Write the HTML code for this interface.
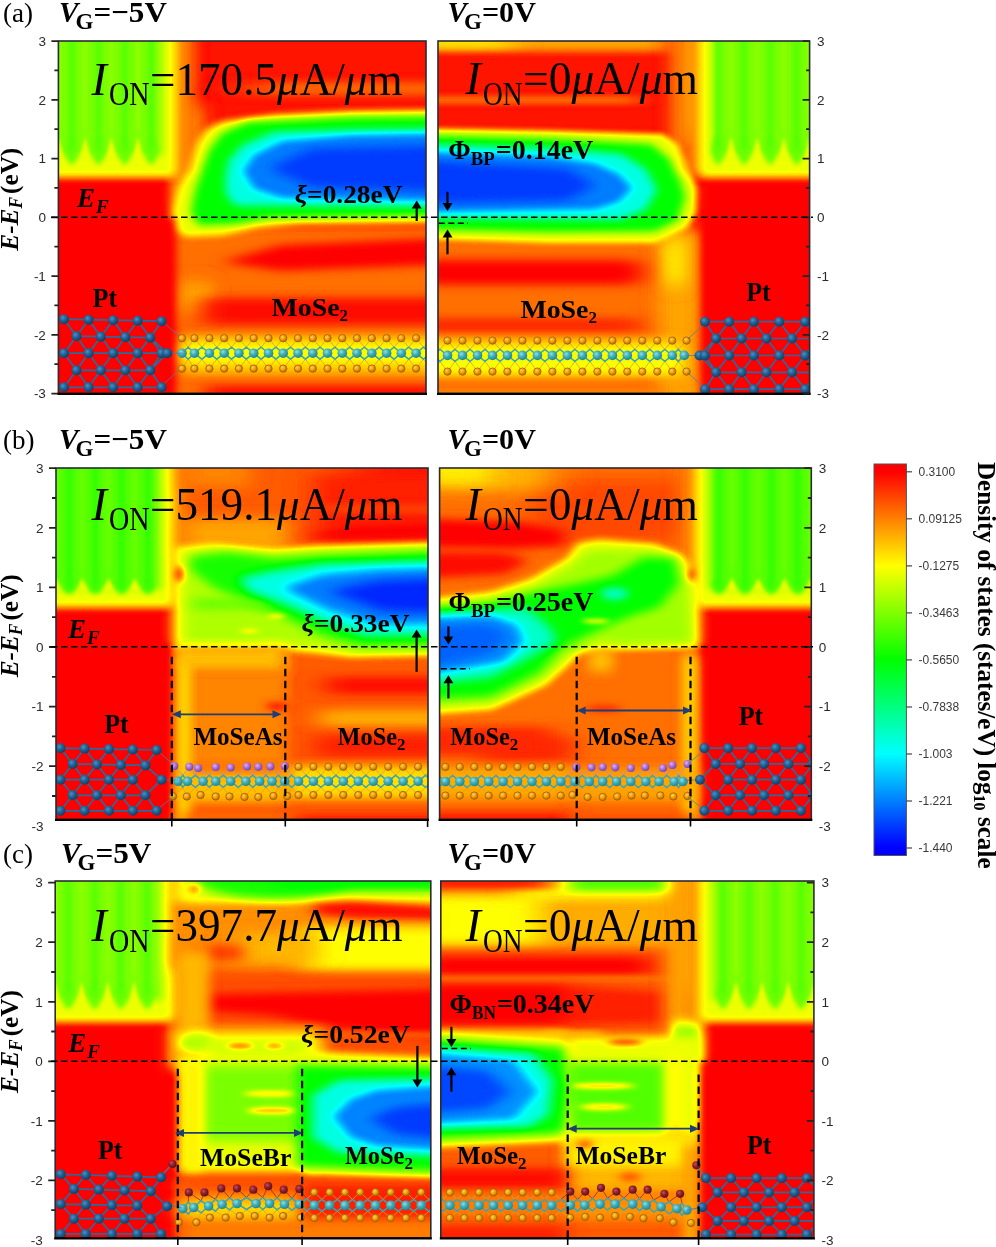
<!DOCTYPE html>
<html><head><meta charset="utf-8"><title>Projected local density of states</title>
<style>
html,body{margin:0;padding:0;background:#fff}
svg{display:block}
text{font-family:"Liberation Serif",serif}
.ss{font-family:"Liberation Sans",sans-serif}
</style></head><body>
<svg width="996" height="1247" viewBox="0 0 996 1247">
<filter id="cm_aL" filterUnits="userSpaceOnUse" x="18.4" y="1" width="447.6" height="432.5" color-interpolation-filters="sRGB"><feComponentTransfer><feFuncR type="table" tableValues="1 1 0 0 0"/><feFuncG type="table" tableValues="0 1 1 1 0"/><feFuncB type="table" tableValues="0 0 0 1 1"/></feComponentTransfer></filter>
<clipPath id="c_aL"><rect x="58.4" y="41" width="367.6" height="352.5"/></clipPath>
<filter id="aL_25_4" filterUnits="userSpaceOnUse" x="18.4" y="1" width="447.6" height="432.5" color-interpolation-filters="sRGB"><feGaussianBlur stdDeviation="25 4"/></filter>
<filter id="aL_8_8" filterUnits="userSpaceOnUse" x="18.4" y="1" width="447.6" height="432.5" color-interpolation-filters="sRGB"><feGaussianBlur stdDeviation="8 8"/></filter>
<filter id="aL_6_5" filterUnits="userSpaceOnUse" x="18.4" y="1" width="447.6" height="432.5" color-interpolation-filters="sRGB"><feGaussianBlur stdDeviation="6 5"/></filter>
<filter id="aL_4_3" filterUnits="userSpaceOnUse" x="18.4" y="1" width="447.6" height="432.5" color-interpolation-filters="sRGB"><feGaussianBlur stdDeviation="4 3"/></filter>
<filter id="aL_5_3p5" filterUnits="userSpaceOnUse" x="18.4" y="1" width="447.6" height="432.5" color-interpolation-filters="sRGB"><feGaussianBlur stdDeviation="5 3.5"/></filter>
<filter id="aL_5_3" filterUnits="userSpaceOnUse" x="18.4" y="1" width="447.6" height="432.5" color-interpolation-filters="sRGB"><feGaussianBlur stdDeviation="5 3"/></filter>
<filter id="aL_8_5" filterUnits="userSpaceOnUse" x="18.4" y="1" width="447.6" height="432.5" color-interpolation-filters="sRGB"><feGaussianBlur stdDeviation="8 5"/></filter>
<filter id="aL_8_4p5" filterUnits="userSpaceOnUse" x="18.4" y="1" width="447.6" height="432.5" color-interpolation-filters="sRGB"><feGaussianBlur stdDeviation="8 4.5"/></filter>
<filter id="aL_14_5" filterUnits="userSpaceOnUse" x="18.4" y="1" width="447.6" height="432.5" color-interpolation-filters="sRGB"><feGaussianBlur stdDeviation="14 5"/></filter>
<filter id="aL_8_4" filterUnits="userSpaceOnUse" x="18.4" y="1" width="447.6" height="432.5" color-interpolation-filters="sRGB"><feGaussianBlur stdDeviation="8 4"/></filter>
<filter id="aL_10_3p5" filterUnits="userSpaceOnUse" x="18.4" y="1" width="447.6" height="432.5" color-interpolation-filters="sRGB"><feGaussianBlur stdDeviation="10 3.5"/></filter>
<filter id="aL_9_5" filterUnits="userSpaceOnUse" x="18.4" y="1" width="447.6" height="432.5" color-interpolation-filters="sRGB"><feGaussianBlur stdDeviation="9 5"/></filter>
<filter id="aL_6_4" filterUnits="userSpaceOnUse" x="18.4" y="1" width="447.6" height="432.5" color-interpolation-filters="sRGB"><feGaussianBlur stdDeviation="6 4"/></filter>
<filter id="aL_5_4p2" filterUnits="userSpaceOnUse" x="18.4" y="1" width="447.6" height="432.5" color-interpolation-filters="sRGB"><feGaussianBlur stdDeviation="5 4.2"/></filter>
<filter id="aL_2_5" filterUnits="userSpaceOnUse" x="18.4" y="1" width="447.6" height="432.5" color-interpolation-filters="sRGB"><feGaussianBlur stdDeviation="2 5"/></filter>
<filter id="aL_1p5_2" filterUnits="userSpaceOnUse" x="18.4" y="1" width="447.6" height="432.5" color-interpolation-filters="sRGB"><feGaussianBlur stdDeviation="1.5 2"/></filter>
<filter id="aL_2_2p5" filterUnits="userSpaceOnUse" x="18.4" y="1" width="447.6" height="432.5" color-interpolation-filters="sRGB"><feGaussianBlur stdDeviation="2 2.5"/></filter>
<filter id="aL_2p5_5" filterUnits="userSpaceOnUse" x="18.4" y="1" width="447.6" height="432.5" color-interpolation-filters="sRGB"><feGaussianBlur stdDeviation="2.5 5"/></filter>
<g clip-path="url(#c_aL)"><g filter="url(#cm_aL)">
<rect x="18.4" y="1" width="447.6" height="432.5" fill="#050505"/>
<rect x="250.8" y="82.4" width="218.4" height="12.8" fill="#1c1c1c" filter="url(#aL_25_4)"/>
<rect x="162.3" y="19.2" width="28.2" height="214.6" fill="#212121" filter="url(#aL_8_8)"/>
<rect x="168" y="105.8" width="37.7" height="56.5" fill="#1f1f1f" filter="url(#aL_8_8)"/>
<rect x="171.7" y="226.3" width="297.4" height="188.3" fill="#1c1c1c" filter="url(#aL_6_5)"/>
<polygon points="457.2,109.8 352.8,110.9 274.4,114.8 222.2,121.3 206.6,129.2 197.4,142.2 185.7,168.3 176.5,194.4 172.1,212.7 173.1,228.4 185.7,236.7 222.2,235.2 256.2,227.9 300.5,223.7 457.2,222.6" fill="#454545" filter="url(#aL_4_3)"/>
<polygon points="457.2,116.1 352.8,117.2 248.3,121.9 222.2,133.1 209.2,150.1 201.9,168.3 194,194.4 190.9,212.7 198.7,225.2 235.3,223.7 269.2,217.9 457.2,215.3" fill="#808080" filter="url(#aL_5_3p5)"/>
<polygon points="457.2,128.6 352.8,129.7 274.4,131.8 243.1,144.8 228.7,160.5 225.4,178.8 226.1,194.4 235.3,205.4 457.2,206.7" fill="#b8b8b8" filter="url(#aL_5_3p5)"/>
<polygon points="457.2,133.3 352.8,134.9 282.3,140.9 253.6,155.3 243.1,170.9 253.6,188.7 282.3,198.1 457.2,201.2" fill="#e0e0e0" filter="url(#aL_5_3)"/>
<polygon points="457.2,145.4 311,148.7 269.2,168.3 311,187.1 457.2,191.8" fill="#f0f0f0" filter="url(#aL_8_5)"/>
<polygon points="221.8,262 280.9,245.1 469.2,236.8 469.2,263.9 280.9,270.7" fill="#000000" filter="url(#aL_8_4p5)"/>
<rect x="179.2" y="282.7" width="33.9" height="30.1" fill="#2b2b2b" filter="url(#aL_8_8)"/>
<rect x="201.8" y="297.8" width="267.3" height="27.1" fill="#030303" filter="url(#aL_14_5)"/>
<rect x="181.1" y="335.4" width="288" height="38.8" fill="#333333" filter="url(#aL_8_4)"/>
<rect x="181.1" y="343.7" width="288" height="18.8" fill="#424242" filter="url(#aL_8_4)"/>
<rect x="205.6" y="385.1" width="263.6" height="29.4" fill="#050505" filter="url(#aL_10_3p5)"/>
<rect x="36.2" y="166" width="131.8" height="248.5" fill="#000000" filter="url(#aL_4_3)"/>
<rect x="36.2" y="218.7" width="138.6" height="195.8" fill="#000000" filter="url(#aL_4_3)"/>
<rect x="-229" y="1" width="418" height="172" fill="#212121" filter="url(#aL_9_5)"/>
<rect x="-229" y="1" width="408" height="174" fill="#2e2e2e" filter="url(#aL_6_4)"/>
<rect x="-229" y="1" width="403" height="175" fill="#454545" filter="url(#aL_5_4p2)"/>
<rect x="-229" y="1" width="391" height="154.6" fill="#626262" filter="url(#aL_5_3)"/>
<rect x="57" y="1" width="3" height="131" fill="#585858" filter="url(#aL_2_5)"/>
<polygon points="51.5,162 58.5,137 65.5,162" fill="#454545" filter="url(#aL_1p5_2)"/>
<rect x="83.7" y="1" width="3" height="131" fill="#585858" filter="url(#aL_2_5)"/>
<polygon points="78.2,162 85.2,137 92.2,162" fill="#454545" filter="url(#aL_1p5_2)"/>
<rect x="109.8" y="1" width="3" height="131" fill="#585858" filter="url(#aL_2_5)"/>
<polygon points="104.3,162 111.3,137 118.3,162" fill="#454545" filter="url(#aL_1p5_2)"/>
<rect x="136.5" y="1" width="3" height="131" fill="#585858" filter="url(#aL_2_5)"/>
<polygon points="131,162 138,137 145,162" fill="#454545" filter="url(#aL_1p5_2)"/>
<ellipse cx="71.8" cy="150" rx="6.7" ry="14" fill="#656565" filter="url(#aL_2_2p5)"/>
<rect x="69.8" y="1" width="4" height="149" fill="#6f6f6f" filter="url(#aL_2p5_5)"/>
<ellipse cx="98.6" cy="150" rx="6.7" ry="14" fill="#656565" filter="url(#aL_2_2p5)"/>
<rect x="96.6" y="1" width="4" height="149" fill="#6f6f6f" filter="url(#aL_2p5_5)"/>
<ellipse cx="124.7" cy="150" rx="6.7" ry="14" fill="#656565" filter="url(#aL_2_2p5)"/>
<rect x="122.7" y="1" width="4" height="149" fill="#6f6f6f" filter="url(#aL_2p5_5)"/>
<ellipse cx="151.3" cy="150" rx="6.7" ry="14" fill="#656565" filter="url(#aL_2_2p5)"/>
<rect x="149.3" y="1" width="4" height="149" fill="#6f6f6f" filter="url(#aL_2p5_5)"/>
<ellipse cx="45.1" cy="150" rx="6.7" ry="14" fill="#656565" filter="url(#aL_2_2p5)"/>
<rect x="43.1" y="1" width="4" height="149" fill="#6f6f6f" filter="url(#aL_2p5_5)"/>
</g></g>
<filter id="cm_aR" filterUnits="userSpaceOnUse" x="398" y="1" width="451.6" height="432.5" color-interpolation-filters="sRGB"><feComponentTransfer><feFuncR type="table" tableValues="1 1 0 0 0"/><feFuncG type="table" tableValues="0 1 1 1 0"/><feFuncB type="table" tableValues="0 0 0 1 1"/></feComponentTransfer></filter>
<clipPath id="c_aR"><rect x="438" y="41" width="371.6" height="352.5"/></clipPath>
<filter id="aR_12_2p5" filterUnits="userSpaceOnUse" x="398" y="1" width="451.6" height="432.5" color-interpolation-filters="sRGB"><feGaussianBlur stdDeviation="12 2.5"/></filter>
<filter id="aR_12_3p5" filterUnits="userSpaceOnUse" x="398" y="1" width="451.6" height="432.5" color-interpolation-filters="sRGB"><feGaussianBlur stdDeviation="12 3.5"/></filter>
<filter id="aR_14_3" filterUnits="userSpaceOnUse" x="398" y="1" width="451.6" height="432.5" color-interpolation-filters="sRGB"><feGaussianBlur stdDeviation="14 3"/></filter>
<filter id="aR_8_8" filterUnits="userSpaceOnUse" x="398" y="1" width="451.6" height="432.5" color-interpolation-filters="sRGB"><feGaussianBlur stdDeviation="8 8"/></filter>
<filter id="aR_5_8" filterUnits="userSpaceOnUse" x="398" y="1" width="451.6" height="432.5" color-interpolation-filters="sRGB"><feGaussianBlur stdDeviation="5 8"/></filter>
<filter id="aR_6_5" filterUnits="userSpaceOnUse" x="398" y="1" width="451.6" height="432.5" color-interpolation-filters="sRGB"><feGaussianBlur stdDeviation="6 5"/></filter>
<filter id="aR_6_8" filterUnits="userSpaceOnUse" x="398" y="1" width="451.6" height="432.5" color-interpolation-filters="sRGB"><feGaussianBlur stdDeviation="6 8"/></filter>
<filter id="aR_3_2p5" filterUnits="userSpaceOnUse" x="398" y="1" width="451.6" height="432.5" color-interpolation-filters="sRGB"><feGaussianBlur stdDeviation="3 2.5"/></filter>
<filter id="aR_5_3p5" filterUnits="userSpaceOnUse" x="398" y="1" width="451.6" height="432.5" color-interpolation-filters="sRGB"><feGaussianBlur stdDeviation="5 3.5"/></filter>
<filter id="aR_5_3" filterUnits="userSpaceOnUse" x="398" y="1" width="451.6" height="432.5" color-interpolation-filters="sRGB"><feGaussianBlur stdDeviation="5 3"/></filter>
<filter id="aR_8_4" filterUnits="userSpaceOnUse" x="398" y="1" width="451.6" height="432.5" color-interpolation-filters="sRGB"><feGaussianBlur stdDeviation="8 4"/></filter>
<filter id="aR_12_5" filterUnits="userSpaceOnUse" x="398" y="1" width="451.6" height="432.5" color-interpolation-filters="sRGB"><feGaussianBlur stdDeviation="12 5"/></filter>
<filter id="aR_12_4" filterUnits="userSpaceOnUse" x="398" y="1" width="451.6" height="432.5" color-interpolation-filters="sRGB"><feGaussianBlur stdDeviation="12 4"/></filter>
<filter id="aR_10_5" filterUnits="userSpaceOnUse" x="398" y="1" width="451.6" height="432.5" color-interpolation-filters="sRGB"><feGaussianBlur stdDeviation="10 5"/></filter>
<filter id="aR_4_3" filterUnits="userSpaceOnUse" x="398" y="1" width="451.6" height="432.5" color-interpolation-filters="sRGB"><feGaussianBlur stdDeviation="4 3"/></filter>
<filter id="aR_2p5_3" filterUnits="userSpaceOnUse" x="398" y="1" width="451.6" height="432.5" color-interpolation-filters="sRGB"><feGaussianBlur stdDeviation="2.5 3"/></filter>
<filter id="aR_9_5" filterUnits="userSpaceOnUse" x="398" y="1" width="451.6" height="432.5" color-interpolation-filters="sRGB"><feGaussianBlur stdDeviation="9 5"/></filter>
<filter id="aR_6_4" filterUnits="userSpaceOnUse" x="398" y="1" width="451.6" height="432.5" color-interpolation-filters="sRGB"><feGaussianBlur stdDeviation="6 4"/></filter>
<filter id="aR_5_4p2" filterUnits="userSpaceOnUse" x="398" y="1" width="451.6" height="432.5" color-interpolation-filters="sRGB"><feGaussianBlur stdDeviation="5 4.2"/></filter>
<filter id="aR_2_5" filterUnits="userSpaceOnUse" x="398" y="1" width="451.6" height="432.5" color-interpolation-filters="sRGB"><feGaussianBlur stdDeviation="2 5"/></filter>
<filter id="aR_1p5_2" filterUnits="userSpaceOnUse" x="398" y="1" width="451.6" height="432.5" color-interpolation-filters="sRGB"><feGaussianBlur stdDeviation="1.5 2"/></filter>
<filter id="aR_2_2p5" filterUnits="userSpaceOnUse" x="398" y="1" width="451.6" height="432.5" color-interpolation-filters="sRGB"><feGaussianBlur stdDeviation="2 2.5"/></filter>
<filter id="aR_2p5_5" filterUnits="userSpaceOnUse" x="398" y="1" width="451.6" height="432.5" color-interpolation-filters="sRGB"><feGaussianBlur stdDeviation="2.5 5"/></filter>
<g clip-path="url(#c_aR)"><g filter="url(#cm_aR)">
<rect x="398" y="1" width="451.6" height="432.5" fill="#050505"/>
<rect x="416" y="95.7" width="223.9" height="8.7" fill="#1a1a1a" filter="url(#aR_12_2p5)"/>
<rect x="416" y="19" width="254.3" height="32.6" fill="#292929" filter="url(#aR_12_3p5)"/>
<rect x="416" y="19" width="94.9" height="29.6" fill="#383838" filter="url(#aR_14_3)"/>
<rect x="670.3" y="19" width="41.7" height="132.8" fill="#212121" filter="url(#aR_8_8)"/>
<rect x="687.4" y="19" width="24.7" height="110.1" fill="#333333" filter="url(#aR_5_8)"/>
<rect x="416" y="235.3" width="284.6" height="182.2" fill="#1c1c1c" filter="url(#aR_6_5)"/>
<rect x="657" y="227.8" width="43.6" height="189.8" fill="#292929" filter="url(#aR_8_8)"/>
<rect x="662.7" y="239.1" width="24.7" height="45.5" fill="#383838" filter="url(#aR_6_8)"/>
<polygon points="416,128.3 548.9,130.6 662.7,134 677.9,144.3 688.5,163.2 696.9,189.8 696.1,212.6 687.4,227.8 655.1,242.9 548.9,242.9 416,239.1" fill="#454545" filter="url(#aR_3_2p5)"/>
<polygon points="416,135.2 548.9,138.2 651.3,143.9 670.3,159.4 679.8,178.4 685.5,197.4 677.9,220.2 655.1,231.5 548.9,232.3 416,229.7" fill="#808080" filter="url(#aR_5_3p5)"/>
<polygon points="416,144.3 548.9,148.1 621,154.1 645.6,168.9 657,189.8 645.6,209.5 621,219.4 416,217.9" fill="#b8b8b8" filter="url(#aR_5_3p5)"/>
<polygon points="416,151.1 548.9,156.4 594.4,163.2 619.1,173.9 632.3,187.9 619.1,201.9 594.4,209.5 416,212.6" fill="#e0e0e0" filter="url(#aR_5_3)"/>
<polygon points="416,160.2 567.8,168.9 594.4,185.2 567.8,200.4 416,203.5" fill="#f0f0f0" filter="url(#aR_8_4)"/>
<rect x="416" y="260" width="225.8" height="24.7" rx="10" fill="#000000" filter="url(#aR_12_5)"/>
<rect x="416" y="318.1" width="223.9" height="14" fill="#0a0a0a" filter="url(#aR_12_4)"/>
<rect x="416" y="337.8" width="265.7" height="40.2" fill="#333333" filter="url(#aR_8_4)"/>
<rect x="416" y="346.2" width="265.7" height="25.8" fill="#424242" filter="url(#aR_8_4)"/>
<rect x="416" y="389" width="246.7" height="28.5" fill="#212121" filter="url(#aR_10_5)"/>
<rect x="705.2" y="170.8" width="147.2" height="246.7" fill="#000000" filter="url(#aR_4_3)"/>
<rect x="702.9" y="216.4" width="149.5" height="201.1" fill="#000000" filter="url(#aR_4_3)"/>
<ellipse cx="691.2" cy="148.8" rx="3.8" ry="5.3" fill="#0d0d0d" filter="url(#aR_2p5_3)"/>
<rect x="686" y="1" width="418" height="172" fill="#212121" filter="url(#aR_9_5)"/>
<rect x="696" y="1" width="408" height="174" fill="#2e2e2e" filter="url(#aR_6_4)"/>
<rect x="701" y="1" width="403" height="175" fill="#454545" filter="url(#aR_5_4p2)"/>
<rect x="713" y="1" width="391" height="154.6" fill="#626262" filter="url(#aR_5_3)"/>
<rect x="729.7" y="1" width="3" height="131" fill="#585858" filter="url(#aR_2_5)"/>
<polygon points="724.2,162 731.2,137 738.2,162" fill="#454545" filter="url(#aR_1p5_2)"/>
<rect x="755.7" y="1" width="3" height="131" fill="#585858" filter="url(#aR_2_5)"/>
<polygon points="750.2,162 757.2,137 764.2,162" fill="#454545" filter="url(#aR_1p5_2)"/>
<rect x="782.4" y="1" width="3" height="131" fill="#585858" filter="url(#aR_2_5)"/>
<polygon points="776.9,162 783.9,137 790.9,162" fill="#454545" filter="url(#aR_1p5_2)"/>
<rect x="808" y="1" width="3" height="131" fill="#585858" filter="url(#aR_2_5)"/>
<polygon points="802.5,162 809.5,137 816.5,162" fill="#454545" filter="url(#aR_1p5_2)"/>
<ellipse cx="744.2" cy="150" rx="6.5" ry="14" fill="#656565" filter="url(#aR_2_2p5)"/>
<rect x="742.2" y="1" width="4" height="149" fill="#6f6f6f" filter="url(#aR_2p5_5)"/>
<ellipse cx="770.2" cy="150" rx="6.5" ry="14" fill="#656565" filter="url(#aR_2_2p5)"/>
<rect x="768.2" y="1" width="4" height="149" fill="#6f6f6f" filter="url(#aR_2p5_5)"/>
<ellipse cx="796.9" cy="150" rx="6.5" ry="14" fill="#656565" filter="url(#aR_2_2p5)"/>
<rect x="794.9" y="1" width="4" height="149" fill="#6f6f6f" filter="url(#aR_2p5_5)"/>
<ellipse cx="822.5" cy="150" rx="6.5" ry="14" fill="#656565" filter="url(#aR_2_2p5)"/>
<rect x="820.5" y="1" width="4" height="149" fill="#6f6f6f" filter="url(#aR_2p5_5)"/>
<ellipse cx="718.2" cy="150" rx="6.5" ry="14" fill="#656565" filter="url(#aR_2_2p5)"/>
<rect x="716.2" y="1" width="4" height="149" fill="#6f6f6f" filter="url(#aR_2p5_5)"/>
</g></g>
<filter id="cm_bL" filterUnits="userSpaceOnUse" x="16" y="428" width="452" height="431.5" color-interpolation-filters="sRGB"><feComponentTransfer><feFuncR type="table" tableValues="1 1 0 0 0"/><feFuncG type="table" tableValues="0 1 1 1 0"/><feFuncB type="table" tableValues="0 0 0 1 1"/></feComponentTransfer></filter>
<clipPath id="c_bL"><rect x="56" y="468" width="372" height="351.5"/></clipPath>
<filter id="bL_4_3" filterUnits="userSpaceOnUse" x="16" y="428" width="452" height="431.5" color-interpolation-filters="sRGB"><feGaussianBlur stdDeviation="4 3"/></filter>
<filter id="bL_9_5" filterUnits="userSpaceOnUse" x="16" y="428" width="452" height="431.5" color-interpolation-filters="sRGB"><feGaussianBlur stdDeviation="9 5"/></filter>
<filter id="bL_6_4" filterUnits="userSpaceOnUse" x="16" y="428" width="452" height="431.5" color-interpolation-filters="sRGB"><feGaussianBlur stdDeviation="6 4"/></filter>
<filter id="bL_5_4p2" filterUnits="userSpaceOnUse" x="16" y="428" width="452" height="431.5" color-interpolation-filters="sRGB"><feGaussianBlur stdDeviation="5 4.2"/></filter>
<filter id="bL_5_3" filterUnits="userSpaceOnUse" x="16" y="428" width="452" height="431.5" color-interpolation-filters="sRGB"><feGaussianBlur stdDeviation="5 3"/></filter>
<filter id="bL_2_5" filterUnits="userSpaceOnUse" x="16" y="428" width="452" height="431.5" color-interpolation-filters="sRGB"><feGaussianBlur stdDeviation="2 5"/></filter>
<filter id="bL_1p5_2" filterUnits="userSpaceOnUse" x="16" y="428" width="452" height="431.5" color-interpolation-filters="sRGB"><feGaussianBlur stdDeviation="1.5 2"/></filter>
<filter id="bL_2_2p5" filterUnits="userSpaceOnUse" x="16" y="428" width="452" height="431.5" color-interpolation-filters="sRGB"><feGaussianBlur stdDeviation="2 2.5"/></filter>
<filter id="bL_2p5_5" filterUnits="userSpaceOnUse" x="16" y="428" width="452" height="431.5" color-interpolation-filters="sRGB"><feGaussianBlur stdDeviation="2.5 5"/></filter>
<filter id="bL_25_10" filterUnits="userSpaceOnUse" x="16" y="428" width="452" height="431.5" color-interpolation-filters="sRGB"><feGaussianBlur stdDeviation="25 10"/></filter>
<filter id="bL_14_6" filterUnits="userSpaceOnUse" x="16" y="428" width="452" height="431.5" color-interpolation-filters="sRGB"><feGaussianBlur stdDeviation="14 6"/></filter>
<filter id="bL_14_3" filterUnits="userSpaceOnUse" x="16" y="428" width="452" height="431.5" color-interpolation-filters="sRGB"><feGaussianBlur stdDeviation="14 3"/></filter>
<filter id="bL_10_6" filterUnits="userSpaceOnUse" x="16" y="428" width="452" height="431.5" color-interpolation-filters="sRGB"><feGaussianBlur stdDeviation="10 6"/></filter>
<filter id="bL_6_3p5" filterUnits="userSpaceOnUse" x="16" y="428" width="452" height="431.5" color-interpolation-filters="sRGB"><feGaussianBlur stdDeviation="6 3.5"/></filter>
<filter id="bL_8_4" filterUnits="userSpaceOnUse" x="16" y="428" width="452" height="431.5" color-interpolation-filters="sRGB"><feGaussianBlur stdDeviation="8 4"/></filter>
<filter id="bL_8_5" filterUnits="userSpaceOnUse" x="16" y="428" width="452" height="431.5" color-interpolation-filters="sRGB"><feGaussianBlur stdDeviation="8 5"/></filter>
<filter id="bL_3_2" filterUnits="userSpaceOnUse" x="16" y="428" width="452" height="431.5" color-interpolation-filters="sRGB"><feGaussianBlur stdDeviation="3 2"/></filter>
<filter id="bL_3_3" filterUnits="userSpaceOnUse" x="16" y="428" width="452" height="431.5" color-interpolation-filters="sRGB"><feGaussianBlur stdDeviation="3 3"/></filter>
<filter id="bL_6_6" filterUnits="userSpaceOnUse" x="16" y="428" width="452" height="431.5" color-interpolation-filters="sRGB"><feGaussianBlur stdDeviation="6 6"/></filter>
<filter id="bL_5_6" filterUnits="userSpaceOnUse" x="16" y="428" width="452" height="431.5" color-interpolation-filters="sRGB"><feGaussianBlur stdDeviation="5 6"/></filter>
<filter id="bL_14_4" filterUnits="userSpaceOnUse" x="16" y="428" width="452" height="431.5" color-interpolation-filters="sRGB"><feGaussianBlur stdDeviation="14 4"/></filter>
<filter id="bL_12_4" filterUnits="userSpaceOnUse" x="16" y="428" width="452" height="431.5" color-interpolation-filters="sRGB"><feGaussianBlur stdDeviation="12 4"/></filter>
<filter id="bL_14_5" filterUnits="userSpaceOnUse" x="16" y="428" width="452" height="431.5" color-interpolation-filters="sRGB"><feGaussianBlur stdDeviation="14 5"/></filter>
<filter id="bL_10_5" filterUnits="userSpaceOnUse" x="16" y="428" width="452" height="431.5" color-interpolation-filters="sRGB"><feGaussianBlur stdDeviation="10 5"/></filter>
<filter id="bL_10_3p5" filterUnits="userSpaceOnUse" x="16" y="428" width="452" height="431.5" color-interpolation-filters="sRGB"><feGaussianBlur stdDeviation="10 3.5"/></filter>
<g clip-path="url(#c_bL)"><g filter="url(#cm_bL)">
<rect x="16" y="428" width="452" height="431.5" fill="#171717"/>
<rect x="34" y="597.8" width="132.8" height="246.7" fill="#000000" filter="url(#bL_4_3)"/>
<rect x="34" y="643.4" width="137.4" height="201.1" fill="#000000" filter="url(#bL_4_3)"/>
<rect x="-231.3" y="428" width="418" height="175" fill="#212121" filter="url(#bL_9_5)"/>
<rect x="-231.3" y="428" width="408" height="177" fill="#2e2e2e" filter="url(#bL_6_4)"/>
<rect x="-231.3" y="428" width="403" height="178" fill="#454545" filter="url(#bL_5_4p2)"/>
<rect x="-231.3" y="428" width="391" height="161.3" fill="#6b6b6b" filter="url(#bL_5_3)"/>
<rect x="54.5" y="428" width="3" height="145" fill="#616161" filter="url(#bL_2_5)"/>
<polygon points="49,592 56,578 63,592" fill="#454545" filter="url(#bL_1p5_2)"/>
<rect x="80.8" y="428" width="3" height="145" fill="#616161" filter="url(#bL_2_5)"/>
<polygon points="75.3,592 82.3,578 89.3,592" fill="#454545" filter="url(#bL_1p5_2)"/>
<rect x="107.1" y="428" width="3" height="145" fill="#616161" filter="url(#bL_2_5)"/>
<polygon points="101.6,592 108.6,578 115.6,592" fill="#454545" filter="url(#bL_1p5_2)"/>
<rect x="133.4" y="428" width="3" height="145" fill="#616161" filter="url(#bL_2_5)"/>
<polygon points="127.9,592 134.9,578 141.9,592" fill="#454545" filter="url(#bL_1p5_2)"/>
<ellipse cx="69.2" cy="586.2" rx="6.6" ry="7.8" fill="#6e6e6e" filter="url(#bL_2_2p5)"/>
<rect x="67.2" y="428" width="4" height="158.2" fill="#787878" filter="url(#bL_2p5_5)"/>
<ellipse cx="95.4" cy="586.2" rx="6.6" ry="7.8" fill="#6e6e6e" filter="url(#bL_2_2p5)"/>
<rect x="93.4" y="428" width="4" height="158.2" fill="#787878" filter="url(#bL_2p5_5)"/>
<ellipse cx="121.8" cy="586.2" rx="6.6" ry="7.8" fill="#6e6e6e" filter="url(#bL_2_2p5)"/>
<rect x="119.8" y="428" width="4" height="158.2" fill="#787878" filter="url(#bL_2p5_5)"/>
<ellipse cx="148.1" cy="586.2" rx="6.6" ry="7.8" fill="#6e6e6e" filter="url(#bL_2_2p5)"/>
<rect x="146.1" y="428" width="4" height="158.2" fill="#787878" filter="url(#bL_2p5_5)"/>
<ellipse cx="42.9" cy="586.2" rx="6.6" ry="7.8" fill="#6e6e6e" filter="url(#bL_2_2p5)"/>
<rect x="40.9" y="428" width="4" height="158.2" fill="#787878" filter="url(#bL_2p5_5)"/>
<rect x="356.6" y="446" width="113.9" height="55" fill="#050505" filter="url(#bL_25_10)"/>
<rect x="314.9" y="474.5" width="155.6" height="70.2" fill="#080808" filter="url(#bL_14_6)"/>
<rect x="318.7" y="504.8" width="151.8" height="7.6" fill="#121212" filter="url(#bL_14_3)"/>
<rect x="183.9" y="518.1" width="104.4" height="36.1" fill="#292929" filter="url(#bL_10_6)"/>
<rect x="183.9" y="446" width="66.4" height="41.7" fill="#212121" filter="url(#bL_10_6)"/>
<polygon points="303.7,536.8 349.8,526.8 458.2,522.7 458.2,536.8 349.8,539" fill="#000000" filter="url(#bL_6_3p5)"/>
<polygon points="174.9,547.1 214.2,543.9 273.9,549.3 311.8,546 458.2,542.2 458.2,654.5 349.8,656.9 311.8,652.8 284.7,650.7 241.3,650.1 174.9,650.7" fill="#454545" filter="url(#bL_4_3)"/>
<polygon points="185.8,553.9 214.2,549.3 273.9,554.7 322.6,550.9 458.2,546.6 458.2,650.7 355.2,652.3 317.2,645.2 284.7,643.6 241.3,643.3 185.8,643.3" fill="#545454" filter="url(#bL_6_4)"/>
<polygon points="191.2,556.6 227.8,552.5 273.9,558 322.6,555.2 458.2,550.6 458.2,645.5 360.6,646.3 322.6,636 290.1,620.3 249.5,604 214.2,587.8 191.2,570.1" fill="#7a7a7a" filter="url(#bL_6_4)"/>
<rect x="192.5" y="598.6" width="75.9" height="10.8" fill="#666666" filter="url(#bL_8_4)"/>
<polygon points="238.6,578.3 268.4,571.5 322.6,563.4 458.2,559.6 458.2,634.9 366,636 328.1,623.8 290.1,606.7 249.5,591.8" fill="#b8b8b8" filter="url(#bL_6_4)"/>
<polygon points="282,587.8 322.6,574.2 376.9,569.3 458.2,567.2 458.2,624.1 376.9,624.6 328.1,610" fill="#e0e0e0" filter="url(#bL_6_4)"/>
<polygon points="328.1,591 376.9,581 458.2,577.5 458.2,613.5 382.3,610.8" fill="#f5f5f5" filter="url(#bL_8_5)"/>
<ellipse cx="276.6" cy="616.2" rx="8.7" ry="1.6" fill="#292929" filter="url(#bL_3_2)"/>
<ellipse cx="249.5" cy="631.1" rx="9.5" ry="1.6" fill="#333333" filter="url(#bL_3_2)"/>
<ellipse cx="179" cy="574.2" rx="4.3" ry="7.6" fill="#0d0d0d" filter="url(#bL_3_3)"/>
<rect x="263" y="649.6" width="24.4" height="22.2" fill="#333333" filter="url(#bL_6_6)"/>
<rect x="182" y="651" width="106.3" height="117.6" fill="#212121" filter="url(#bL_6_6)"/>
<rect x="176.3" y="654.8" width="15.2" height="189.8" fill="#363636" filter="url(#bL_5_6)"/>
<rect x="326.2" y="676.8" width="144.2" height="17.1" fill="#030303" filter="url(#bL_14_4)"/>
<rect x="318.7" y="709.8" width="151.8" height="17.1" fill="#2b2b2b" filter="url(#bL_12_4)"/>
<ellipse cx="276.9" cy="706.4" rx="11.4" ry="3.8" fill="#050505" filter="url(#bL_4_3)"/>
<rect x="314.9" y="735.2" width="155.6" height="21.3" fill="#080808" filter="url(#bL_14_5)"/>
<rect x="288.3" y="765.6" width="182.2" height="33.4" fill="#383838" filter="url(#bL_8_5)"/>
<rect x="182" y="772.4" width="106.3" height="30.4" fill="#303030" filter="url(#bL_8_5)"/>
<rect x="182" y="812.2" width="288.4" height="32.3" fill="#1a1a1a" filter="url(#bL_10_5)"/>
<rect x="295.9" y="813.4" width="174.6" height="31.1" fill="#080808" filter="url(#bL_10_3p5)"/>
<rect x="178.2" y="648.7" width="102.5" height="19.4" fill="#303030" filter="url(#bL_6_4)"/>
</g></g>
<filter id="cm_bR" filterUnits="userSpaceOnUse" x="399.6" y="428" width="451.7" height="431.5" color-interpolation-filters="sRGB"><feComponentTransfer><feFuncR type="table" tableValues="1 1 0 0 0"/><feFuncG type="table" tableValues="0 1 1 1 0"/><feFuncB type="table" tableValues="0 0 0 1 1"/></feComponentTransfer></filter>
<clipPath id="c_bR"><rect x="439.6" y="468" width="371.7" height="351.5"/></clipPath>
<filter id="bR_14_8" filterUnits="userSpaceOnUse" x="399.6" y="428" width="451.7" height="431.5" color-interpolation-filters="sRGB"><feGaussianBlur stdDeviation="14 8"/></filter>
<filter id="bR_4_3" filterUnits="userSpaceOnUse" x="399.6" y="428" width="451.7" height="431.5" color-interpolation-filters="sRGB"><feGaussianBlur stdDeviation="4 3"/></filter>
<filter id="bR_9_5" filterUnits="userSpaceOnUse" x="399.6" y="428" width="451.7" height="431.5" color-interpolation-filters="sRGB"><feGaussianBlur stdDeviation="9 5"/></filter>
<filter id="bR_6_4" filterUnits="userSpaceOnUse" x="399.6" y="428" width="451.7" height="431.5" color-interpolation-filters="sRGB"><feGaussianBlur stdDeviation="6 4"/></filter>
<filter id="bR_5_4p2" filterUnits="userSpaceOnUse" x="399.6" y="428" width="451.7" height="431.5" color-interpolation-filters="sRGB"><feGaussianBlur stdDeviation="5 4.2"/></filter>
<filter id="bR_5_3" filterUnits="userSpaceOnUse" x="399.6" y="428" width="451.7" height="431.5" color-interpolation-filters="sRGB"><feGaussianBlur stdDeviation="5 3"/></filter>
<filter id="bR_2_5" filterUnits="userSpaceOnUse" x="399.6" y="428" width="451.7" height="431.5" color-interpolation-filters="sRGB"><feGaussianBlur stdDeviation="2 5"/></filter>
<filter id="bR_1p5_2" filterUnits="userSpaceOnUse" x="399.6" y="428" width="451.7" height="431.5" color-interpolation-filters="sRGB"><feGaussianBlur stdDeviation="1.5 2"/></filter>
<filter id="bR_2_2p5" filterUnits="userSpaceOnUse" x="399.6" y="428" width="451.7" height="431.5" color-interpolation-filters="sRGB"><feGaussianBlur stdDeviation="2 2.5"/></filter>
<filter id="bR_2p5_5" filterUnits="userSpaceOnUse" x="399.6" y="428" width="451.7" height="431.5" color-interpolation-filters="sRGB"><feGaussianBlur stdDeviation="2.5 5"/></filter>
<filter id="bR_20_8" filterUnits="userSpaceOnUse" x="399.6" y="428" width="451.7" height="431.5" color-interpolation-filters="sRGB"><feGaussianBlur stdDeviation="20 8"/></filter>
<filter id="bR_12_6" filterUnits="userSpaceOnUse" x="399.6" y="428" width="451.7" height="431.5" color-interpolation-filters="sRGB"><feGaussianBlur stdDeviation="12 6"/></filter>
<filter id="bR_8_4" filterUnits="userSpaceOnUse" x="399.6" y="428" width="451.7" height="431.5" color-interpolation-filters="sRGB"><feGaussianBlur stdDeviation="8 4"/></filter>
<filter id="bR_7_4" filterUnits="userSpaceOnUse" x="399.6" y="428" width="451.7" height="431.5" color-interpolation-filters="sRGB"><feGaussianBlur stdDeviation="7 4"/></filter>
<filter id="bR_5_3p5" filterUnits="userSpaceOnUse" x="399.6" y="428" width="451.7" height="431.5" color-interpolation-filters="sRGB"><feGaussianBlur stdDeviation="5 3.5"/></filter>
<filter id="bR_6_3p5" filterUnits="userSpaceOnUse" x="399.6" y="428" width="451.7" height="431.5" color-interpolation-filters="sRGB"><feGaussianBlur stdDeviation="6 3.5"/></filter>
<filter id="bR_3_2" filterUnits="userSpaceOnUse" x="399.6" y="428" width="451.7" height="431.5" color-interpolation-filters="sRGB"><feGaussianBlur stdDeviation="3 2"/></filter>
<filter id="bR_3_3" filterUnits="userSpaceOnUse" x="399.6" y="428" width="451.7" height="431.5" color-interpolation-filters="sRGB"><feGaussianBlur stdDeviation="3 3"/></filter>
<filter id="bR_6_6" filterUnits="userSpaceOnUse" x="399.6" y="428" width="451.7" height="431.5" color-interpolation-filters="sRGB"><feGaussianBlur stdDeviation="6 6"/></filter>
<filter id="bR_5_6" filterUnits="userSpaceOnUse" x="399.6" y="428" width="451.7" height="431.5" color-interpolation-filters="sRGB"><feGaussianBlur stdDeviation="5 6"/></filter>
<filter id="bR_14_6" filterUnits="userSpaceOnUse" x="399.6" y="428" width="451.7" height="431.5" color-interpolation-filters="sRGB"><feGaussianBlur stdDeviation="14 6"/></filter>
<filter id="bR_8_5" filterUnits="userSpaceOnUse" x="399.6" y="428" width="451.7" height="431.5" color-interpolation-filters="sRGB"><feGaussianBlur stdDeviation="8 5"/></filter>
<filter id="bR_10_5" filterUnits="userSpaceOnUse" x="399.6" y="428" width="451.7" height="431.5" color-interpolation-filters="sRGB"><feGaussianBlur stdDeviation="10 5"/></filter>
<filter id="bR_12_5" filterUnits="userSpaceOnUse" x="399.6" y="428" width="451.7" height="431.5" color-interpolation-filters="sRGB"><feGaussianBlur stdDeviation="12 5"/></filter>
<g clip-path="url(#c_bR)"><g filter="url(#cm_bR)">
<rect x="399.6" y="428" width="451.7" height="431.5" fill="#1c1c1c"/>
<rect x="531.9" y="480.2" width="151.8" height="60.7" fill="#121212" filter="url(#bR_14_8)"/>
<rect x="704.6" y="597.8" width="149.9" height="246.7" fill="#000000" filter="url(#bR_4_3)"/>
<rect x="698.9" y="645.3" width="155.6" height="199.2" fill="#000000" filter="url(#bR_4_3)"/>
<rect x="682.4" y="428" width="418" height="175" fill="#212121" filter="url(#bR_9_5)"/>
<rect x="692.4" y="428" width="408" height="177" fill="#2e2e2e" filter="url(#bR_6_4)"/>
<rect x="697.4" y="428" width="403" height="178" fill="#454545" filter="url(#bR_5_4p2)"/>
<rect x="709.4" y="428" width="391" height="161.3" fill="#6b6b6b" filter="url(#bR_5_3)"/>
<rect x="730.5" y="428" width="3" height="145" fill="#616161" filter="url(#bR_2_5)"/>
<polygon points="725,592 732,578 739,592" fill="#454545" filter="url(#bR_1p5_2)"/>
<rect x="756.8" y="428" width="3" height="145" fill="#616161" filter="url(#bR_2_5)"/>
<polygon points="751.3,592 758.3,578 765.3,592" fill="#454545" filter="url(#bR_1p5_2)"/>
<rect x="783.1" y="428" width="3" height="145" fill="#616161" filter="url(#bR_2_5)"/>
<polygon points="777.6,592 784.6,578 791.6,592" fill="#454545" filter="url(#bR_1p5_2)"/>
<rect x="809.4" y="428" width="3" height="145" fill="#616161" filter="url(#bR_2_5)"/>
<polygon points="803.9,592 810.9,578 817.9,592" fill="#454545" filter="url(#bR_1p5_2)"/>
<ellipse cx="745.1" cy="586.2" rx="6.6" ry="7.8" fill="#6e6e6e" filter="url(#bR_2_2p5)"/>
<rect x="743.1" y="428" width="4" height="158.2" fill="#787878" filter="url(#bR_2p5_5)"/>
<ellipse cx="771.4" cy="586.2" rx="6.6" ry="7.8" fill="#6e6e6e" filter="url(#bR_2_2p5)"/>
<rect x="769.4" y="428" width="4" height="158.2" fill="#787878" filter="url(#bR_2p5_5)"/>
<ellipse cx="797.8" cy="586.2" rx="6.6" ry="7.8" fill="#6e6e6e" filter="url(#bR_2_2p5)"/>
<rect x="795.8" y="428" width="4" height="158.2" fill="#787878" filter="url(#bR_2p5_5)"/>
<ellipse cx="824" cy="586.2" rx="6.6" ry="7.8" fill="#6e6e6e" filter="url(#bR_2_2p5)"/>
<rect x="822" y="428" width="4" height="158.2" fill="#787878" filter="url(#bR_2p5_5)"/>
<ellipse cx="718.9" cy="586.2" rx="6.6" ry="7.8" fill="#6e6e6e" filter="url(#bR_2_2p5)"/>
<rect x="716.9" y="428" width="4" height="158.2" fill="#787878" filter="url(#bR_2p5_5)"/>
<rect x="418" y="446" width="132.8" height="45.5" fill="#2e2e2e" filter="url(#bR_20_8)"/>
<rect x="418" y="446" width="72.1" height="38" fill="#3b3b3b" filter="url(#bR_12_6)"/>
<polygon points="423.4,518.6 518.3,521.4 564.4,530.8 564.4,545.8 518.3,548.5 423.4,547.1" fill="#000000" filter="url(#bR_8_4)"/>
<polygon points="423.4,552 504.8,552.5 529.2,560.7 504.8,574.2 423.4,578.3" fill="#030303" filter="url(#bR_7_4)"/>
<polygon points="423.4,599.2 491.2,591.8 531.9,578.3 567.1,558 578,543 599.6,539.5 653.9,543.9 681,553.9 697.8,574.2 697.8,647.4 578,650.7 572.5,661 545.4,685.4 491.2,709.8 423.4,714.6" fill="#454545" filter="url(#bR_4_3)"/>
<polygon points="423.4,606.7 491.2,599.2 534.6,586.4 572.5,564.7 588.8,549.8 653.9,550.4 675.5,560.7 689.1,587.8 691.8,643.3 599.6,644.7 567.1,655.5 542.7,678.6 491.2,703 423.4,707" fill="#575757" filter="url(#bR_6_4)"/>
<polygon points="423.4,609.5 491.2,603.5 537.3,591.8 578,583.7 613.2,575.6 643.8,557.4 674.2,558.5 678.8,583.2 659,607.6 628.7,616.8 598,630.3 561.7,647.4 540,671.8 491.2,696.2 423.4,699.5" fill="#808080" filter="url(#bR_6_4)"/>
<polygon points="423.4,614.3 491.2,609.5 526.5,608.1 550.9,628.4 556.3,642 526.5,658.8 491.2,677.2 423.4,684.3" fill="#b2b2b2" filter="url(#bR_6_4)"/>
<ellipse cx="614.6" cy="593.7" rx="13.6" ry="6" fill="#b2b2b2" filter="url(#bR_5_3p5)"/>
<polygon points="423.4,617.6 491.2,614.9 518.3,624.4 525.1,642 504.8,662.3 423.4,676.1" fill="#dbdbdb" filter="url(#bR_6_3p5)"/>
<polygon points="423.4,625.7 491.2,623.6 510.2,636.6 491.2,655 423.4,668.5" fill="#e6e6e6" filter="url(#bR_8_4)"/>
<ellipse cx="595.6" cy="621.1" rx="13.6" ry="1.9" fill="#333333" filter="url(#bR_3_2)"/>
<ellipse cx="691.8" cy="574.2" rx="3.8" ry="7" fill="#0f0f0f" filter="url(#bR_3_3)"/>
<rect x="588.8" y="649.6" width="24.4" height="22.2" fill="#303030" filter="url(#bR_6_6)"/>
<rect x="681.8" y="654.8" width="17.1" height="189.8" fill="#333333" filter="url(#bR_5_6)"/>
<ellipse cx="604" cy="708.6" rx="17.1" ry="3" fill="#080808" filter="url(#bR_5_3)"/>
<rect x="482.5" y="736.3" width="91.1" height="24.7" fill="#0a0a0a" filter="url(#bR_14_6)"/>
<rect x="418" y="766.7" width="155.6" height="32.3" fill="#2b2b2b" filter="url(#bR_8_5)"/>
<rect x="573.6" y="768.6" width="121.4" height="32.3" fill="#292929" filter="url(#bR_8_5)"/>
<rect x="418" y="812.2" width="155.6" height="32.3" fill="#050505" filter="url(#bR_10_5)"/>
<rect x="573.6" y="812.2" width="121.4" height="32.3" fill="#141414" filter="url(#bR_10_5)"/>
<rect x="418" y="726.9" width="132.8" height="28.5" fill="#0a0a0a" filter="url(#bR_12_5)"/>
</g></g>
<filter id="cm_cL" filterUnits="userSpaceOnUse" x="15.2" y="841" width="455.6" height="437" color-interpolation-filters="sRGB"><feComponentTransfer><feFuncR type="table" tableValues="1 1 0 0 0"/><feFuncG type="table" tableValues="0 1 1 1 0"/><feFuncB type="table" tableValues="0 0 0 1 1"/></feComponentTransfer></filter>
<clipPath id="c_cL"><rect x="55.2" y="881" width="375.6" height="357"/></clipPath>
<filter id="cL_4_3" filterUnits="userSpaceOnUse" x="15.2" y="841" width="455.6" height="437" color-interpolation-filters="sRGB"><feGaussianBlur stdDeviation="4 3"/></filter>
<filter id="cL_9_5" filterUnits="userSpaceOnUse" x="15.2" y="841" width="455.6" height="437" color-interpolation-filters="sRGB"><feGaussianBlur stdDeviation="9 5"/></filter>
<filter id="cL_6_4" filterUnits="userSpaceOnUse" x="15.2" y="841" width="455.6" height="437" color-interpolation-filters="sRGB"><feGaussianBlur stdDeviation="6 4"/></filter>
<filter id="cL_5_4p2" filterUnits="userSpaceOnUse" x="15.2" y="841" width="455.6" height="437" color-interpolation-filters="sRGB"><feGaussianBlur stdDeviation="5 4.2"/></filter>
<filter id="cL_5_3" filterUnits="userSpaceOnUse" x="15.2" y="841" width="455.6" height="437" color-interpolation-filters="sRGB"><feGaussianBlur stdDeviation="5 3"/></filter>
<filter id="cL_2_5" filterUnits="userSpaceOnUse" x="15.2" y="841" width="455.6" height="437" color-interpolation-filters="sRGB"><feGaussianBlur stdDeviation="2 5"/></filter>
<filter id="cL_1p5_2" filterUnits="userSpaceOnUse" x="15.2" y="841" width="455.6" height="437" color-interpolation-filters="sRGB"><feGaussianBlur stdDeviation="1.5 2"/></filter>
<filter id="cL_2_2p5" filterUnits="userSpaceOnUse" x="15.2" y="841" width="455.6" height="437" color-interpolation-filters="sRGB"><feGaussianBlur stdDeviation="2 2.5"/></filter>
<filter id="cL_2p5_5" filterUnits="userSpaceOnUse" x="15.2" y="841" width="455.6" height="437" color-interpolation-filters="sRGB"><feGaussianBlur stdDeviation="2.5 5"/></filter>
<filter id="cL_8_6" filterUnits="userSpaceOnUse" x="15.2" y="841" width="455.6" height="437" color-interpolation-filters="sRGB"><feGaussianBlur stdDeviation="8 6"/></filter>
<filter id="cL_10_4" filterUnits="userSpaceOnUse" x="15.2" y="841" width="455.6" height="437" color-interpolation-filters="sRGB"><feGaussianBlur stdDeviation="10 4"/></filter>
<filter id="cL_8_4" filterUnits="userSpaceOnUse" x="15.2" y="841" width="455.6" height="437" color-interpolation-filters="sRGB"><feGaussianBlur stdDeviation="8 4"/></filter>
<filter id="cL_14_3p5" filterUnits="userSpaceOnUse" x="15.2" y="841" width="455.6" height="437" color-interpolation-filters="sRGB"><feGaussianBlur stdDeviation="14 3.5"/></filter>
<filter id="cL_8_3p5" filterUnits="userSpaceOnUse" x="15.2" y="841" width="455.6" height="437" color-interpolation-filters="sRGB"><feGaussianBlur stdDeviation="8 3.5"/></filter>
<filter id="cL_14_5" filterUnits="userSpaceOnUse" x="15.2" y="841" width="455.6" height="437" color-interpolation-filters="sRGB"><feGaussianBlur stdDeviation="14 5"/></filter>
<filter id="cL_14_6" filterUnits="userSpaceOnUse" x="15.2" y="841" width="455.6" height="437" color-interpolation-filters="sRGB"><feGaussianBlur stdDeviation="14 6"/></filter>
<filter id="cL_8_5" filterUnits="userSpaceOnUse" x="15.2" y="841" width="455.6" height="437" color-interpolation-filters="sRGB"><feGaussianBlur stdDeviation="8 5"/></filter>
<filter id="cL_3_3" filterUnits="userSpaceOnUse" x="15.2" y="841" width="455.6" height="437" color-interpolation-filters="sRGB"><feGaussianBlur stdDeviation="3 3"/></filter>
<filter id="cL_10_4p5" filterUnits="userSpaceOnUse" x="15.2" y="841" width="455.6" height="437" color-interpolation-filters="sRGB"><feGaussianBlur stdDeviation="10 4.5"/></filter>
<filter id="cL_10_2p5" filterUnits="userSpaceOnUse" x="15.2" y="841" width="455.6" height="437" color-interpolation-filters="sRGB"><feGaussianBlur stdDeviation="10 2.5"/></filter>
<filter id="cL_6_8" filterUnits="userSpaceOnUse" x="15.2" y="841" width="455.6" height="437" color-interpolation-filters="sRGB"><feGaussianBlur stdDeviation="6 8"/></filter>
<filter id="cL_5_4" filterUnits="userSpaceOnUse" x="15.2" y="841" width="455.6" height="437" color-interpolation-filters="sRGB"><feGaussianBlur stdDeviation="5 4"/></filter>
<filter id="cL_3_2" filterUnits="userSpaceOnUse" x="15.2" y="841" width="455.6" height="437" color-interpolation-filters="sRGB"><feGaussianBlur stdDeviation="3 2"/></filter>
<filter id="cL_4_4" filterUnits="userSpaceOnUse" x="15.2" y="841" width="455.6" height="437" color-interpolation-filters="sRGB"><feGaussianBlur stdDeviation="4 4"/></filter>
<filter id="cL_7_6" filterUnits="userSpaceOnUse" x="15.2" y="841" width="455.6" height="437" color-interpolation-filters="sRGB"><feGaussianBlur stdDeviation="7 6"/></filter>
<filter id="cL_5_5" filterUnits="userSpaceOnUse" x="15.2" y="841" width="455.6" height="437" color-interpolation-filters="sRGB"><feGaussianBlur stdDeviation="5 5"/></filter>
<filter id="cL_4_2" filterUnits="userSpaceOnUse" x="15.2" y="841" width="455.6" height="437" color-interpolation-filters="sRGB"><feGaussianBlur stdDeviation="4 2"/></filter>
<filter id="cL_6_3p5" filterUnits="userSpaceOnUse" x="15.2" y="841" width="455.6" height="437" color-interpolation-filters="sRGB"><feGaussianBlur stdDeviation="6 3.5"/></filter>
<filter id="cL_10_3p5" filterUnits="userSpaceOnUse" x="15.2" y="841" width="455.6" height="437" color-interpolation-filters="sRGB"><feGaussianBlur stdDeviation="10 3.5"/></filter>
<g clip-path="url(#c_cL)"><g filter="url(#cm_cL)">
<rect x="15.2" y="841" width="455.6" height="437" fill="#141414"/>
<rect x="33.9" y="1011.5" width="133.5" height="248" fill="#000000" filter="url(#cL_4_3)"/>
<rect x="33.9" y="1065" width="141.2" height="194.6" fill="#000000" filter="url(#cL_4_3)"/>
<rect x="-229.5" y="841" width="418" height="176.5" fill="#212121" filter="url(#cL_9_5)"/>
<rect x="-229.5" y="841" width="408" height="178.5" fill="#2e2e2e" filter="url(#cL_6_4)"/>
<rect x="-229.5" y="841" width="403" height="179.5" fill="#454545" filter="url(#cL_5_4p2)"/>
<rect x="-229.5" y="841" width="391" height="159.1" fill="#626262" filter="url(#cL_5_3)"/>
<rect x="53.7" y="841" width="3" height="135.5" fill="#585858" filter="url(#cL_2_5)"/>
<polygon points="48.2,1006.5 55.2,981.5 62.2,1006.5" fill="#454545" filter="url(#cL_1p5_2)"/>
<rect x="80" y="841" width="3" height="135.5" fill="#585858" filter="url(#cL_2_5)"/>
<polygon points="74.5,1006.5 81.5,981.5 88.5,1006.5" fill="#454545" filter="url(#cL_1p5_2)"/>
<rect x="106.3" y="841" width="3" height="135.5" fill="#585858" filter="url(#cL_2_5)"/>
<polygon points="100.8,1006.5 107.8,981.5 114.8,1006.5" fill="#454545" filter="url(#cL_1p5_2)"/>
<rect x="132.6" y="841" width="3" height="135.5" fill="#585858" filter="url(#cL_2_5)"/>
<polygon points="127.1,1006.5 134.1,981.5 141.1,1006.5" fill="#454545" filter="url(#cL_1p5_2)"/>
<ellipse cx="68.3" cy="994.5" rx="6.6" ry="14" fill="#656565" filter="url(#cL_2_2p5)"/>
<rect x="66.3" y="841" width="4" height="153.5" fill="#6f6f6f" filter="url(#cL_2p5_5)"/>
<ellipse cx="94.7" cy="994.5" rx="6.6" ry="14" fill="#656565" filter="url(#cL_2_2p5)"/>
<rect x="92.7" y="841" width="4" height="153.5" fill="#6f6f6f" filter="url(#cL_2p5_5)"/>
<ellipse cx="120.9" cy="994.5" rx="6.6" ry="14" fill="#656565" filter="url(#cL_2_2p5)"/>
<rect x="118.9" y="841" width="4" height="153.5" fill="#6f6f6f" filter="url(#cL_2p5_5)"/>
<ellipse cx="147.2" cy="994.5" rx="6.6" ry="14" fill="#656565" filter="url(#cL_2_2p5)"/>
<rect x="145.2" y="841" width="4" height="153.5" fill="#6f6f6f" filter="url(#cL_2p5_5)"/>
<ellipse cx="42.1" cy="994.5" rx="6.6" ry="14" fill="#656565" filter="url(#cL_2_2p5)"/>
<rect x="40.1" y="841" width="4" height="153.5" fill="#6f6f6f" filter="url(#cL_2p5_5)"/>
<rect x="171" y="864.3" width="290.6" height="105.5" fill="#242424" filter="url(#cL_8_6)"/>
<rect x="176.4" y="864.3" width="285.1" height="37.8" fill="#4a4a4a" filter="url(#cL_10_4)"/>
<ellipse cx="275.1" cy="875.3" rx="82.2" ry="23.3" fill="#7a7a7a" filter="url(#cL_8_4)"/>
<rect x="275.1" y="864.3" width="186.4" height="26.3" fill="#808080" filter="url(#cL_14_3p5)"/>
<polygon points="313.5,904 351.9,901.3 461.5,908.7 461.5,919.7 351.9,917.7 313.5,913.6" fill="#030303" filter="url(#cL_8_3p5)"/>
<rect x="302.5" y="926.8" width="159" height="43" fill="#404040" filter="url(#cL_14_5)"/>
<rect x="236.8" y="932.8" width="76.8" height="30.2" fill="#2e2e2e" filter="url(#cL_14_6)"/>
<rect x="184.7" y="945.2" width="57.6" height="15.1" fill="#0f0f0f" filter="url(#cL_8_5)"/>
<ellipse cx="194.3" cy="889" rx="6" ry="3.8" fill="#1a1a1a" filter="url(#cL_3_3)"/>
<polygon points="206.6,994.5 461.5,989 461.5,1042.5 324.5,1026 269.6,1015.1 206.6,1010.9" fill="#000000" filter="url(#cL_10_4p5)"/>
<rect x="171" y="1027.4" width="153.5" height="42.5" fill="#333333" filter="url(#cL_8_5)"/>
<rect x="320.1" y="1031.4" width="152.6" height="7.6" fill="#171717" filter="url(#cL_10_2p5)"/>
<rect x="177" y="946.7" width="32.4" height="122.1" fill="#2e2e2e" filter="url(#cL_6_8)"/>
<ellipse cx="197.2" cy="1042.8" rx="18.3" ry="10.7" fill="#545454" filter="url(#cL_5_4)"/>
<rect x="205.6" y="1037.5" width="106.8" height="21.7" fill="#4c4c4c" filter="url(#cL_8_4)"/>
<ellipse cx="240" cy="1045.9" rx="12.2" ry="2.7" fill="#1a1a1a" filter="url(#cL_3_2)"/>
<ellipse cx="274.3" cy="1045.9" rx="8.4" ry="2.3" fill="#1f1f1f" filter="url(#cL_3_2)"/>
<rect x="180.8" y="1057.3" width="139.3" height="114.5" fill="#454545" filter="url(#cL_4_4)"/>
<rect x="201.8" y="1065" width="118.3" height="76.3" fill="#616161" filter="url(#cL_7_6)"/>
<rect x="182.7" y="1061.1" width="21" height="110.6" fill="#3d3d3d" filter="url(#cL_5_5)"/>
<ellipse cx="270.5" cy="1093.6" rx="26.7" ry="2.7" fill="#333333" filter="url(#cL_4_2)"/>
<ellipse cx="272.4" cy="1110.7" rx="24.8" ry="3.1" fill="#2b2b2b" filter="url(#cL_4_2)"/>
<polygon points="304.8,1051.6 472.7,1058.8 472.7,1180.2 304.8,1174.1" fill="#454545" filter="url(#cL_4_3)"/>
<polygon points="297.2,1065 472.7,1066.9 472.7,1173.3 297.2,1166.4" fill="#808080" filter="url(#cL_6_4)"/>
<polygon points="312.4,1095.5 339.2,1080.2 472.7,1077.2 472.7,1157.7 339.2,1152.7 312.4,1137.4" fill="#b8b8b8" filter="url(#cL_6_3p5)"/>
<polygon points="333.4,1116.5 350.6,1099.3 377.3,1090.1 472.7,1083.3 472.7,1151.9 377.3,1145.8 350.6,1137.4" fill="#dedede" filter="url(#cL_5_3)"/>
<polygon points="369.7,1118.4 396.4,1106.9 472.7,1101.2 472.7,1141.3 396.4,1134.4" fill="#f0f0f0" filter="url(#cL_8_4)"/>
<rect x="180.8" y="1183.2" width="291.9" height="76.3" fill="#1f1f1f" filter="url(#cL_8_4)"/>
<rect x="180.8" y="1179.4" width="124" height="10.7" fill="#141414" filter="url(#cL_10_3p5)"/>
<rect x="180.8" y="1199.3" width="120.2" height="19.1" fill="#363636" filter="url(#cL_10_4)"/>
<rect x="302.9" y="1183.2" width="169.8" height="35.1" fill="#080808" filter="url(#cL_8_4)"/>
</g></g>
<filter id="cm_cR" filterUnits="userSpaceOnUse" x="400.8" y="841" width="453.1" height="437" color-interpolation-filters="sRGB"><feComponentTransfer><feFuncR type="table" tableValues="1 1 0 0 0"/><feFuncG type="table" tableValues="0 1 1 1 0"/><feFuncB type="table" tableValues="0 0 0 1 1"/></feComponentTransfer></filter>
<clipPath id="c_cR"><rect x="440.8" y="881" width="373.1" height="357"/></clipPath>
<filter id="cR_14_4" filterUnits="userSpaceOnUse" x="400.8" y="841" width="453.1" height="437" color-interpolation-filters="sRGB"><feGaussianBlur stdDeviation="14 4"/></filter>
<filter id="cR_12_4" filterUnits="userSpaceOnUse" x="400.8" y="841" width="453.1" height="437" color-interpolation-filters="sRGB"><feGaussianBlur stdDeviation="12 4"/></filter>
<filter id="cR_14_5" filterUnits="userSpaceOnUse" x="400.8" y="841" width="453.1" height="437" color-interpolation-filters="sRGB"><feGaussianBlur stdDeviation="14 5"/></filter>
<filter id="cR_10_3" filterUnits="userSpaceOnUse" x="400.8" y="841" width="453.1" height="437" color-interpolation-filters="sRGB"><feGaussianBlur stdDeviation="10 3"/></filter>
<filter id="cR_14_3" filterUnits="userSpaceOnUse" x="400.8" y="841" width="453.1" height="437" color-interpolation-filters="sRGB"><feGaussianBlur stdDeviation="14 3"/></filter>
<filter id="cR_14_2p5" filterUnits="userSpaceOnUse" x="400.8" y="841" width="453.1" height="437" color-interpolation-filters="sRGB"><feGaussianBlur stdDeviation="14 2.5"/></filter>
<filter id="cR_10_4" filterUnits="userSpaceOnUse" x="400.8" y="841" width="453.1" height="437" color-interpolation-filters="sRGB"><feGaussianBlur stdDeviation="10 4"/></filter>
<filter id="cR_6_2" filterUnits="userSpaceOnUse" x="400.8" y="841" width="453.1" height="437" color-interpolation-filters="sRGB"><feGaussianBlur stdDeviation="6 2"/></filter>
<filter id="cR_8_8" filterUnits="userSpaceOnUse" x="400.8" y="841" width="453.1" height="437" color-interpolation-filters="sRGB"><feGaussianBlur stdDeviation="8 8"/></filter>
<filter id="cR_5_8" filterUnits="userSpaceOnUse" x="400.8" y="841" width="453.1" height="437" color-interpolation-filters="sRGB"><feGaussianBlur stdDeviation="5 8"/></filter>
<filter id="cR_5_6" filterUnits="userSpaceOnUse" x="400.8" y="841" width="453.1" height="437" color-interpolation-filters="sRGB"><feGaussianBlur stdDeviation="5 6"/></filter>
<filter id="cR_6_4" filterUnits="userSpaceOnUse" x="400.8" y="841" width="453.1" height="437" color-interpolation-filters="sRGB"><feGaussianBlur stdDeviation="6 4"/></filter>
<filter id="cR_6_3" filterUnits="userSpaceOnUse" x="400.8" y="841" width="453.1" height="437" color-interpolation-filters="sRGB"><feGaussianBlur stdDeviation="6 3"/></filter>
<filter id="cR_4_2" filterUnits="userSpaceOnUse" x="400.8" y="841" width="453.1" height="437" color-interpolation-filters="sRGB"><feGaussianBlur stdDeviation="4 2"/></filter>
<filter id="cR_4_4" filterUnits="userSpaceOnUse" x="400.8" y="841" width="453.1" height="437" color-interpolation-filters="sRGB"><feGaussianBlur stdDeviation="4 4"/></filter>
<filter id="cR_7_5" filterUnits="userSpaceOnUse" x="400.8" y="841" width="453.1" height="437" color-interpolation-filters="sRGB"><feGaussianBlur stdDeviation="7 5"/></filter>
<filter id="cR_4_5" filterUnits="userSpaceOnUse" x="400.8" y="841" width="453.1" height="437" color-interpolation-filters="sRGB"><feGaussianBlur stdDeviation="4 5"/></filter>
<filter id="cR_4_3" filterUnits="userSpaceOnUse" x="400.8" y="841" width="453.1" height="437" color-interpolation-filters="sRGB"><feGaussianBlur stdDeviation="4 3"/></filter>
<filter id="cR_6_3p5" filterUnits="userSpaceOnUse" x="400.8" y="841" width="453.1" height="437" color-interpolation-filters="sRGB"><feGaussianBlur stdDeviation="6 3.5"/></filter>
<filter id="cR_8_4" filterUnits="userSpaceOnUse" x="400.8" y="841" width="453.1" height="437" color-interpolation-filters="sRGB"><feGaussianBlur stdDeviation="8 4"/></filter>
<filter id="cR_8_6" filterUnits="userSpaceOnUse" x="400.8" y="841" width="453.1" height="437" color-interpolation-filters="sRGB"><feGaussianBlur stdDeviation="8 6"/></filter>
<filter id="cR_8_5" filterUnits="userSpaceOnUse" x="400.8" y="841" width="453.1" height="437" color-interpolation-filters="sRGB"><feGaussianBlur stdDeviation="8 5"/></filter>
<filter id="cR_5_3" filterUnits="userSpaceOnUse" x="400.8" y="841" width="453.1" height="437" color-interpolation-filters="sRGB"><feGaussianBlur stdDeviation="5 3"/></filter>
<filter id="cR_9_5" filterUnits="userSpaceOnUse" x="400.8" y="841" width="453.1" height="437" color-interpolation-filters="sRGB"><feGaussianBlur stdDeviation="9 5"/></filter>
<filter id="cR_5_4p2" filterUnits="userSpaceOnUse" x="400.8" y="841" width="453.1" height="437" color-interpolation-filters="sRGB"><feGaussianBlur stdDeviation="5 4.2"/></filter>
<filter id="cR_2_5" filterUnits="userSpaceOnUse" x="400.8" y="841" width="453.1" height="437" color-interpolation-filters="sRGB"><feGaussianBlur stdDeviation="2 5"/></filter>
<filter id="cR_1p5_2" filterUnits="userSpaceOnUse" x="400.8" y="841" width="453.1" height="437" color-interpolation-filters="sRGB"><feGaussianBlur stdDeviation="1.5 2"/></filter>
<filter id="cR_2_2p5" filterUnits="userSpaceOnUse" x="400.8" y="841" width="453.1" height="437" color-interpolation-filters="sRGB"><feGaussianBlur stdDeviation="2 2.5"/></filter>
<filter id="cR_2p5_5" filterUnits="userSpaceOnUse" x="400.8" y="841" width="453.1" height="437" color-interpolation-filters="sRGB"><feGaussianBlur stdDeviation="2.5 5"/></filter>
<g clip-path="url(#c_cR)"><g filter="url(#cm_cR)">
<rect x="400.8" y="841" width="453.1" height="437" fill="#171717"/>
<rect x="418.9" y="858.9" width="255.6" height="37.4" fill="#2b2b2b" filter="url(#cR_14_4)"/>
<rect x="418.9" y="891.7" width="263.3" height="55.7" fill="#2b2b2b" filter="url(#cR_12_4)"/>
<rect x="418.9" y="896.3" width="122.1" height="47.3" fill="#404040" filter="url(#cR_14_5)"/>
<rect x="514.3" y="858.9" width="198.4" height="40.4" fill="#404040" filter="url(#cR_12_4)"/>
<rect x="567.7" y="858.9" width="114.5" height="32" fill="#6b6b6b" filter="url(#cR_10_3)"/>
<rect x="418.9" y="858.9" width="133.5" height="30.5" fill="#080808" filter="url(#cR_14_3)"/>
<rect x="418.9" y="956.6" width="232.7" height="18.3" rx="8" fill="#000000" filter="url(#cR_14_4)"/>
<rect x="418.9" y="976.4" width="248" height="5.3" fill="#1f1f1f" filter="url(#cR_14_2p5)"/>
<polygon points="418.9,984.8 563.9,984.8 666.9,992.5 666.9,1023 563.9,1024.9 418.9,1024.9" fill="#080808" filter="url(#cR_12_4)"/>
<rect x="418.9" y="986.4" width="145" height="36.6" fill="#000000" filter="url(#cR_10_4)"/>
<rect x="544.8" y="1030.6" width="57.2" height="4.6" fill="#2b2b2b" filter="url(#cR_6_2)"/>
<rect x="666.9" y="858.9" width="45.8" height="209.8" fill="#2b2b2b" filter="url(#cR_8_8)"/>
<rect x="686" y="858.9" width="26.7" height="133.5" fill="#383838" filter="url(#cR_5_8)"/>
<rect x="672.6" y="1023" width="26.7" height="99.2" fill="#5c5c5c" filter="url(#cR_5_6)"/>
<rect x="563.9" y="1036.3" width="141.2" height="32.4" fill="#454545" filter="url(#cR_6_4)"/>
<rect x="418.9" y="1029.9" width="148.8" height="16" fill="#333333" filter="url(#cR_6_3)"/>
<ellipse cx="625" cy="1042.1" rx="17.2" ry="3.1" fill="#141414" filter="url(#cR_4_2)"/>
<rect x="563.9" y="1055.4" width="137.4" height="89.7" fill="#454545" filter="url(#cR_4_4)"/>
<rect x="563.9" y="1063" width="103" height="74.4" fill="#6b6b6b" filter="url(#cR_7_5)"/>
<rect x="665.4" y="1057.3" width="16.8" height="95.4" fill="#404040" filter="url(#cR_4_5)"/>
<ellipse cx="602.1" cy="1085.9" rx="32.4" ry="2.7" fill="#2b2b2b" filter="url(#cR_4_2)"/>
<ellipse cx="604" cy="1106.9" rx="24.8" ry="3.1" fill="#333333" filter="url(#cR_4_2)"/>
<polygon points="418.9,1031.4 567.7,1040.2 571.5,1141.3 418.9,1148.1" fill="#454545" filter="url(#cR_4_3)"/>
<polygon points="418.9,1037.5 563.9,1047.8 569.6,1091.7 563.9,1133.6 418.9,1139.7" fill="#808080" filter="url(#cR_6_4)"/>
<polygon points="418.9,1045.9 533.4,1053.5 552.5,1080.2 548.6,1114.6 529.6,1126.8 418.9,1129" fill="#b8b8b8" filter="url(#cR_6_3p5)"/>
<polygon points="418.9,1052 514.3,1060.4 538,1091.7 514.3,1119.1 418.9,1124.5" fill="#dbdbdb" filter="url(#cR_6_3)"/>
<polygon points="418.9,1065 487.6,1070.7 510.5,1091.7 487.6,1108.8 418.9,1113.8" fill="#ededed" filter="url(#cR_8_4)"/>
<rect x="566.8" y="1134.6" width="131.6" height="58.9" fill="#2e2e2e" filter="url(#cR_8_6)"/>
<rect x="566.8" y="1135.9" width="131.6" height="30.7" fill="#3d3d3d" filter="url(#cR_8_5)"/>
<ellipse cx="584.7" cy="1144.2" rx="8.2" ry="3.3" fill="#0d0d0d" filter="url(#cR_4_3)"/>
<ellipse cx="629.9" cy="1177.1" rx="11" ry="3.8" fill="#121212" filter="url(#cR_5_3)"/>
<rect x="418.9" y="1168.7" width="146.9" height="19.1" fill="#030303" filter="url(#cR_10_4)"/>
<rect x="418.9" y="1193.1" width="146.9" height="24.4" fill="#1f1f1f" filter="url(#cR_10_4)"/>
<rect x="565.8" y="1194.7" width="131.6" height="26.7" fill="#242424" filter="url(#cR_10_4)"/>
<rect x="418.9" y="1226" width="146.9" height="33.6" fill="#080808" filter="url(#cR_10_4)"/>
<rect x="682.2" y="1145.1" width="19.1" height="114.5" fill="#292929" filter="url(#cR_5_6)"/>
<rect x="707" y="1013.4" width="150.7" height="246.1" fill="#000000" filter="url(#cR_4_3)"/>
<rect x="701.3" y="1061.1" width="156.4" height="198.4" fill="#000000" filter="url(#cR_4_3)"/>
<rect x="685.9" y="841" width="418" height="176.5" fill="#212121" filter="url(#cR_9_5)"/>
<rect x="695.9" y="841" width="408" height="178.5" fill="#2e2e2e" filter="url(#cR_6_4)"/>
<rect x="700.9" y="841" width="403" height="179.5" fill="#454545" filter="url(#cR_5_4p2)"/>
<rect x="712.9" y="841" width="391" height="159.1" fill="#626262" filter="url(#cR_5_3)"/>
<rect x="734.5" y="841" width="3" height="135.5" fill="#585858" filter="url(#cR_2_5)"/>
<polygon points="729,1006.5 736,981.5 743,1006.5" fill="#454545" filter="url(#cR_1p5_2)"/>
<rect x="760.6" y="841" width="3" height="135.5" fill="#585858" filter="url(#cR_2_5)"/>
<polygon points="755.1,1006.5 762.1,981.5 769.1,1006.5" fill="#454545" filter="url(#cR_1p5_2)"/>
<rect x="786.7" y="841" width="3" height="135.5" fill="#585858" filter="url(#cR_2_5)"/>
<polygon points="781.2,1006.5 788.2,981.5 795.2,1006.5" fill="#454545" filter="url(#cR_1p5_2)"/>
<rect x="812.8" y="841" width="3" height="135.5" fill="#585858" filter="url(#cR_2_5)"/>
<polygon points="807.3,1006.5 814.3,981.5 821.3,1006.5" fill="#454545" filter="url(#cR_1p5_2)"/>
<ellipse cx="749" cy="994.5" rx="6.5" ry="14" fill="#656565" filter="url(#cR_2_2p5)"/>
<rect x="747" y="841" width="4" height="153.5" fill="#6f6f6f" filter="url(#cR_2p5_5)"/>
<ellipse cx="775.2" cy="994.5" rx="6.5" ry="14" fill="#656565" filter="url(#cR_2_2p5)"/>
<rect x="773.2" y="841" width="4" height="153.5" fill="#6f6f6f" filter="url(#cR_2p5_5)"/>
<ellipse cx="801.2" cy="994.5" rx="6.5" ry="14" fill="#656565" filter="url(#cR_2_2p5)"/>
<rect x="799.2" y="841" width="4" height="153.5" fill="#6f6f6f" filter="url(#cR_2p5_5)"/>
<ellipse cx="827.3" cy="994.5" rx="6.5" ry="14" fill="#656565" filter="url(#cR_2_2p5)"/>
<rect x="825.3" y="841" width="4" height="153.5" fill="#6f6f6f" filter="url(#cR_2p5_5)"/>
<ellipse cx="723" cy="994.5" rx="6.5" ry="14" fill="#656565" filter="url(#cR_2_2p5)"/>
<rect x="721" y="841" width="4" height="153.5" fill="#6f6f6f" filter="url(#cR_2p5_5)"/>
</g></g>
<defs><radialGradient id="gPt" cx="0.38" cy="0.35" r="0.7"><stop offset="0" stop-color="#4d8fc0"/><stop offset="0.45" stop-color="#1f6296"/><stop offset="1" stop-color="#12395c"/></radialGradient><radialGradient id="gMo" cx="0.38" cy="0.35" r="0.7"><stop offset="0" stop-color="#8fe0e6"/><stop offset="0.45" stop-color="#3fadb9"/><stop offset="1" stop-color="#1f7f8e"/></radialGradient><radialGradient id="gSe" cx="0.38" cy="0.35" r="0.7"><stop offset="0" stop-color="#ffd060"/><stop offset="0.45" stop-color="#f7a008"/><stop offset="1" stop-color="#a86400"/></radialGradient><radialGradient id="gAs" cx="0.38" cy="0.35" r="0.7"><stop offset="0" stop-color="#e0b0f0"/><stop offset="0.45" stop-color="#b070d8"/><stop offset="1" stop-color="#7040a0"/></radialGradient><radialGradient id="gBr" cx="0.38" cy="0.35" r="0.7"><stop offset="0" stop-color="#c05060"/><stop offset="0.45" stop-color="#8e1f2e"/><stop offset="1" stop-color="#5a0f1a"/></radialGradient></defs>
<g clip-path="url(#c_aL)"><path d="M182 338.2L188.2 347.2M194.4 338.2L188.2 347.2M194.4 338.2L201.9 347.2M209.4 338.2L216.8 347.2M209.4 338.2L201.9 347.2M224.2 338.2L216.8 347.2M224.2 338.2L231.5 347.2M238.9 338.2L231.5 347.2M238.9 338.2L246.3 347.2M253.7 338.2L246.3 347.2M253.7 338.2L261.1 347.2M268.5 338.2L261.1 347.2M268.5 338.2L275.8 347.2M283.2 338.2L290.6 347.2M283.2 338.2L275.8 347.2M298 338.2L290.6 347.2M298 338.2L305.4 347.2M312.8 338.2L305.4 347.2M312.8 338.2L320.1 347.2M327.5 338.2L320.1 347.2M327.5 338.2L334.9 347.2M342.3 338.2L334.9 347.2M342.3 338.2L349.7 347.2M357 338.2L349.7 347.2M357 338.2L364.4 347.2M371.8 338.2L379.2 347.2M371.8 338.2L364.4 347.2M386.6 338.2L379.2 347.2M386.6 338.2L394 347.2M401.3 338.2L394 347.2M401.3 338.2L408.7 347.2M416.1 338.2L423.5 347.2M416.1 338.2L408.7 347.2M430.8 338.2L423.5 347.2" stroke="#e8a020" stroke-width="1" fill="none" opacity="0.85"/><path d="M182 368.6L188.2 359.2M194.4 368.6L188.2 359.2M194.4 368.6L201.9 359.2M209.4 368.6L216.8 359.2M209.4 368.6L201.9 359.2M224.2 368.6L216.8 359.2M224.2 368.6L231.5 359.2M238.9 368.6L231.5 359.2M238.9 368.6L246.3 359.2M253.7 368.6L246.3 359.2M253.7 368.6L261.1 359.2M268.5 368.6L261.1 359.2M268.5 368.6L275.8 359.2M283.2 368.6L290.6 359.2M283.2 368.6L275.8 359.2M298 368.6L290.6 359.2M298 368.6L305.4 359.2M312.8 368.6L305.4 359.2M312.8 368.6L320.1 359.2M327.5 368.6L320.1 359.2M327.5 368.6L334.9 359.2M342.3 368.6L334.9 359.2M342.3 368.6L349.7 359.2M357 368.6L349.7 359.2M357 368.6L364.4 359.2M371.8 368.6L379.2 359.2M371.8 368.6L364.4 359.2M386.6 368.6L379.2 359.2M386.6 368.6L394 359.2M401.3 368.6L394 359.2M401.3 368.6L408.7 359.2M416.1 368.6L423.5 359.2M416.1 368.6L408.7 359.2M430.8 368.6L423.5 359.2" stroke="#e8a020" stroke-width="1" fill="none" opacity="0.85"/><path d="M182 353.2L188.2 347.2L194.4 353.2L188.2 359.2ZM194.4 353.2L201.9 347.2L209.4 353.2L201.9 359.2ZM209.4 353.2L216.8 347.2L224.2 353.2L216.8 359.2ZM224.2 353.2L231.5 347.2L238.9 353.2L231.5 359.2ZM238.9 353.2L246.3 347.2L253.7 353.2L246.3 359.2ZM253.7 353.2L261.1 347.2L268.5 353.2L261.1 359.2ZM268.5 353.2L275.8 347.2L283.2 353.2L275.8 359.2ZM283.2 353.2L290.6 347.2L298 353.2L290.6 359.2ZM298 353.2L305.4 347.2L312.8 353.2L305.4 359.2ZM312.8 353.2L320.1 347.2L327.5 353.2L320.1 359.2ZM327.5 353.2L334.9 347.2L342.3 353.2L334.9 359.2ZM342.3 353.2L349.7 347.2L357 353.2L349.7 359.2ZM357 353.2L364.4 347.2L371.8 353.2L364.4 359.2ZM371.8 353.2L379.2 347.2L386.6 353.2L379.2 359.2ZM386.6 353.2L394 347.2L401.3 353.2L394 359.2ZM401.3 353.2L408.7 347.2L416.1 353.2L408.7 359.2ZM416.1 353.2L423.5 347.2L430.8 353.2L423.5 359.2Z" stroke="#3aa6b4" stroke-width="1.5" fill="none"/><g fill="url(#gSe)" stroke="#9a6208" stroke-width="0.8"><circle cx="182" cy="338.2" r="3.7"/><circle cx="194.4" cy="338.2" r="3.7"/><circle cx="209.4" cy="338.2" r="3.7"/><circle cx="224.2" cy="338.2" r="3.7"/><circle cx="238.9" cy="338.2" r="3.7"/><circle cx="253.7" cy="338.2" r="3.7"/><circle cx="268.5" cy="338.2" r="3.7"/><circle cx="283.2" cy="338.2" r="3.7"/><circle cx="298" cy="338.2" r="3.7"/><circle cx="312.8" cy="338.2" r="3.7"/><circle cx="327.5" cy="338.2" r="3.7"/><circle cx="342.3" cy="338.2" r="3.7"/><circle cx="357" cy="338.2" r="3.7"/><circle cx="371.8" cy="338.2" r="3.7"/><circle cx="386.6" cy="338.2" r="3.7"/><circle cx="401.3" cy="338.2" r="3.7"/><circle cx="416.1" cy="338.2" r="3.7"/><circle cx="430.8" cy="338.2" r="3.7"/><circle cx="182" cy="368.6" r="3.7"/><circle cx="194.4" cy="368.6" r="3.7"/><circle cx="209.4" cy="368.6" r="3.7"/><circle cx="224.2" cy="368.6" r="3.7"/><circle cx="238.9" cy="368.6" r="3.7"/><circle cx="253.7" cy="368.6" r="3.7"/><circle cx="268.5" cy="368.6" r="3.7"/><circle cx="283.2" cy="368.6" r="3.7"/><circle cx="298" cy="368.6" r="3.7"/><circle cx="312.8" cy="368.6" r="3.7"/><circle cx="327.5" cy="368.6" r="3.7"/><circle cx="342.3" cy="368.6" r="3.7"/><circle cx="357" cy="368.6" r="3.7"/><circle cx="371.8" cy="368.6" r="3.7"/><circle cx="386.6" cy="368.6" r="3.7"/><circle cx="401.3" cy="368.6" r="3.7"/><circle cx="416.1" cy="368.6" r="3.7"/><circle cx="430.8" cy="368.6" r="3.7"/></g><g fill="url(#gMo)"><circle cx="182" cy="353.2" r="4.8"/><circle cx="194.4" cy="353.2" r="4.8"/><circle cx="209.4" cy="353.2" r="4.8"/><circle cx="224.2" cy="353.2" r="4.8"/><circle cx="238.9" cy="353.2" r="4.8"/><circle cx="253.7" cy="353.2" r="4.8"/><circle cx="268.5" cy="353.2" r="4.8"/><circle cx="283.2" cy="353.2" r="4.8"/><circle cx="298" cy="353.2" r="4.8"/><circle cx="312.8" cy="353.2" r="4.8"/><circle cx="327.5" cy="353.2" r="4.8"/><circle cx="342.3" cy="353.2" r="4.8"/><circle cx="357" cy="353.2" r="4.8"/><circle cx="371.8" cy="353.2" r="4.8"/><circle cx="386.6" cy="353.2" r="4.8"/><circle cx="401.3" cy="353.2" r="4.8"/><circle cx="416.1" cy="353.2" r="4.8"/><circle cx="430.8" cy="353.2" r="4.8"/></g><path d="M161.6 321L179 336M167.5 353.2H182M161.6 386L179 370" stroke="#4a80a8" stroke-width="1" fill="none" opacity="0.8"/><path d="M64 319.2L88.6 319.7M64 319.2L76.5 336.2M88.6 319.7L113.2 320.2M88.6 319.7L76.5 336.2M88.6 319.7L100.8 336.7M113.2 320.2L137.7 320.7M113.2 320.2L100.8 336.7M113.2 320.2L125.3 337.2M137.7 320.7L161.6 321.2M137.7 320.7L125.3 337.2M137.7 320.7L150.2 337.7M161.6 321.2L150.2 337.7M76.5 336.2L100.8 336.7M76.5 336.2L64 353.2M76.5 336.2L88.6 353.2M100.8 336.7L125.3 337.2M100.8 336.7L88.6 353.2M100.8 336.7L113.2 353.2M125.3 337.2L150.2 337.7M125.3 337.2L113.2 353.2M125.3 337.2L137.7 353.2M150.2 337.7L137.7 353.2M150.2 337.7L161.6 353.2M150.2 337.7L167.2 353.2M64 353.2L88.6 353.2M64 353.2L76.5 370.3M88.6 353.2L113.2 353.2M88.6 353.2L76.5 370.3M88.6 353.2L100.8 370.3M113.2 353.2L137.7 353.2M113.2 353.2L100.8 370.3M113.2 353.2L125.3 370.3M137.7 353.2L161.6 353.2M137.7 353.2L125.3 370.3M137.7 353.2L150.2 370.3M161.6 353.2L150.2 370.3M167.2 353.2L150.2 370.3M76.5 370.3L100.8 370.3M76.5 370.3L64 387.3M76.5 370.3L88.6 387.3M100.8 370.3L125.3 370.3M100.8 370.3L88.6 387.3M100.8 370.3L113.2 387.3M125.3 370.3L150.2 370.3M125.3 370.3L113.2 387.3M125.3 370.3L137.7 387.3M150.2 370.3L137.7 387.3M150.2 370.3L161.6 387.3M64 387.3L88.6 387.3M88.6 387.3L113.2 387.3M113.2 387.3L137.7 387.3M137.7 387.3L161.6 387.3" stroke="#2a6a9c" stroke-width="1.7" fill="none"/><g fill="url(#gPt)"><circle cx="64" cy="319.2" r="5"/><circle cx="88.6" cy="319.7" r="5"/><circle cx="113.2" cy="320.2" r="5"/><circle cx="137.7" cy="320.7" r="5"/><circle cx="161.6" cy="321.2" r="5"/><circle cx="76.5" cy="336.2" r="5"/><circle cx="100.8" cy="336.7" r="5"/><circle cx="125.3" cy="337.2" r="5"/><circle cx="150.2" cy="337.7" r="5"/><circle cx="64" cy="353.2" r="5"/><circle cx="88.6" cy="353.2" r="5"/><circle cx="113.2" cy="353.2" r="5"/><circle cx="137.7" cy="353.2" r="5"/><circle cx="161.6" cy="353.2" r="5"/><circle cx="167.2" cy="353.2" r="5"/><circle cx="76.5" cy="370.3" r="5"/><circle cx="100.8" cy="370.3" r="5"/><circle cx="125.3" cy="370.3" r="5"/><circle cx="150.2" cy="370.3" r="5"/><circle cx="64" cy="387.3" r="5"/><circle cx="88.6" cy="387.3" r="5"/><circle cx="113.2" cy="387.3" r="5"/><circle cx="137.7" cy="387.3" r="5"/><circle cx="161.6" cy="387.3" r="5"/></g></g><g clip-path="url(#c_aR)"><path d="M432.8 340.6L440.1 349.4M447.5 340.6L440.1 349.4M447.5 340.6L455 349.4M462.5 340.6L455 349.4M462.5 340.6L470 349.4M477.5 340.6L470 349.4M477.5 340.6L485 349.4M492.5 340.6L485 349.4M492.5 340.6L500 349.4M507.4 340.6L514.9 349.4M507.4 340.6L500 349.4M522.4 340.6L514.9 349.4M522.4 340.6L529.9 349.4M537.4 340.6L529.9 349.4M537.4 340.6L544.9 349.4M552.4 340.6L544.9 349.4M552.4 340.6L559.9 349.4M567.4 340.6L559.9 349.4M567.4 340.6L574.9 349.4M582.4 340.6L574.9 349.4M582.4 340.6L589.9 349.4M597.4 340.6L604.9 349.4M597.4 340.6L589.9 349.4M612.4 340.6L604.9 349.4M612.4 340.6L619.8 349.4M627.3 340.6L619.8 349.4M627.3 340.6L634.8 349.4M642.3 340.6L634.8 349.4M642.3 340.6L649.8 349.4M657.3 340.6L649.8 349.4M657.3 340.6L664.8 349.4M672.3 340.6L678.3 349.4M672.3 340.6L664.8 349.4M686.6 340.6L678.3 349.4" stroke="#e8a020" stroke-width="1" fill="none" opacity="0.85"/><path d="M432.8 371.6L440.1 361.4M447.5 371.6L440.1 361.4M447.5 371.6L455 361.4M462.5 371.6L455 361.4M462.5 371.6L470 361.4M477.5 371.6L470 361.4M477.5 371.6L485 361.4M492.5 371.6L485 361.4M492.5 371.6L500 361.4M507.4 371.6L514.9 361.4M507.4 371.6L500 361.4M522.4 371.6L514.9 361.4M522.4 371.6L529.9 361.4M537.4 371.6L529.9 361.4M537.4 371.6L544.9 361.4M552.4 371.6L544.9 361.4M552.4 371.6L559.9 361.4M567.4 371.6L559.9 361.4M567.4 371.6L574.9 361.4M582.4 371.6L574.9 361.4M582.4 371.6L589.9 361.4M597.4 371.6L604.9 361.4M597.4 371.6L589.9 361.4M612.4 371.6L604.9 361.4M612.4 371.6L619.8 361.4M627.3 371.6L619.8 361.4M627.3 371.6L634.8 361.4M642.3 371.6L634.8 361.4M642.3 371.6L649.8 361.4M657.3 371.6L649.8 361.4M657.3 371.6L664.8 361.4M672.3 371.6L678.3 361.4M672.3 371.6L664.8 361.4M686.6 371.6L678.3 361.4" stroke="#e8a020" stroke-width="1" fill="none" opacity="0.85"/><path d="M432.8 355.4L440.1 349.4L447.5 355.4L440.1 361.4ZM447.5 355.4L455 349.4L462.5 355.4L455 361.4ZM462.5 355.4L470 349.4L477.5 355.4L470 361.4ZM477.5 355.4L485 349.4L492.5 355.4L485 361.4ZM492.5 355.4L500 349.4L507.4 355.4L500 361.4ZM507.4 355.4L514.9 349.4L522.4 355.4L514.9 361.4ZM522.4 355.4L529.9 349.4L537.4 355.4L529.9 361.4ZM537.4 355.4L544.9 349.4L552.4 355.4L544.9 361.4ZM552.4 355.4L559.9 349.4L567.4 355.4L559.9 361.4ZM567.4 355.4L574.9 349.4L582.4 355.4L574.9 361.4ZM582.4 355.4L589.9 349.4L597.4 355.4L589.9 361.4ZM597.4 355.4L604.9 349.4L612.4 355.4L604.9 361.4ZM612.4 355.4L619.8 349.4L627.3 355.4L619.8 361.4ZM627.3 355.4L634.8 349.4L642.3 355.4L634.8 361.4ZM642.3 355.4L649.8 349.4L657.3 355.4L649.8 361.4ZM657.3 355.4L664.8 349.4L672.3 355.4L664.8 361.4ZM672.3 355.4L678.3 349.4L684.3 355.4L678.3 361.4Z" stroke="#3aa6b4" stroke-width="1.5" fill="none"/><g fill="url(#gSe)" stroke="#9a6208" stroke-width="0.8"><circle cx="432.8" cy="340.6" r="3.7"/><circle cx="447.5" cy="340.6" r="3.7"/><circle cx="462.5" cy="340.6" r="3.7"/><circle cx="477.5" cy="340.6" r="3.7"/><circle cx="492.5" cy="340.6" r="3.7"/><circle cx="507.4" cy="340.6" r="3.7"/><circle cx="522.4" cy="340.6" r="3.7"/><circle cx="537.4" cy="340.6" r="3.7"/><circle cx="552.4" cy="340.6" r="3.7"/><circle cx="567.4" cy="340.6" r="3.7"/><circle cx="582.4" cy="340.6" r="3.7"/><circle cx="597.4" cy="340.6" r="3.7"/><circle cx="612.4" cy="340.6" r="3.7"/><circle cx="627.3" cy="340.6" r="3.7"/><circle cx="642.3" cy="340.6" r="3.7"/><circle cx="657.3" cy="340.6" r="3.7"/><circle cx="672.3" cy="340.6" r="3.7"/><circle cx="686.6" cy="340.6" r="3.7"/><circle cx="432.8" cy="371.6" r="3.7"/><circle cx="447.5" cy="371.6" r="3.7"/><circle cx="462.5" cy="371.6" r="3.7"/><circle cx="477.5" cy="371.6" r="3.7"/><circle cx="492.5" cy="371.6" r="3.7"/><circle cx="507.4" cy="371.6" r="3.7"/><circle cx="522.4" cy="371.6" r="3.7"/><circle cx="537.4" cy="371.6" r="3.7"/><circle cx="552.4" cy="371.6" r="3.7"/><circle cx="567.4" cy="371.6" r="3.7"/><circle cx="582.4" cy="371.6" r="3.7"/><circle cx="597.4" cy="371.6" r="3.7"/><circle cx="612.4" cy="371.6" r="3.7"/><circle cx="627.3" cy="371.6" r="3.7"/><circle cx="642.3" cy="371.6" r="3.7"/><circle cx="657.3" cy="371.6" r="3.7"/><circle cx="672.3" cy="371.6" r="3.7"/><circle cx="686.6" cy="371.6" r="3.7"/></g><g fill="url(#gMo)"><circle cx="432.8" cy="355.4" r="4.8"/><circle cx="447.5" cy="355.4" r="4.8"/><circle cx="462.5" cy="355.4" r="4.8"/><circle cx="477.5" cy="355.4" r="4.8"/><circle cx="492.5" cy="355.4" r="4.8"/><circle cx="507.4" cy="355.4" r="4.8"/><circle cx="522.4" cy="355.4" r="4.8"/><circle cx="537.4" cy="355.4" r="4.8"/><circle cx="552.4" cy="355.4" r="4.8"/><circle cx="567.4" cy="355.4" r="4.8"/><circle cx="582.4" cy="355.4" r="4.8"/><circle cx="597.4" cy="355.4" r="4.8"/><circle cx="612.4" cy="355.4" r="4.8"/><circle cx="627.3" cy="355.4" r="4.8"/><circle cx="642.3" cy="355.4" r="4.8"/><circle cx="657.3" cy="355.4" r="4.8"/><circle cx="672.3" cy="355.4" r="4.8"/><circle cx="684.3" cy="355.4" r="4.8"/></g><path d="M705 323L688 339M700 355.5H686M705 388L688 373" stroke="#4a80a8" stroke-width="1" fill="none" opacity="0.8"/><path d="M705 321.7L729.2 321.7M705 321.7L716 338.5M729.2 321.7L753.9 321.7M729.2 321.7L716 338.5M729.2 321.7L741.6 338.5M753.9 321.7L779.3 321.7M753.9 321.7L741.6 338.5M753.9 321.7L766.5 338.5M779.3 321.7L805.2 321.7M779.3 321.7L766.5 338.5M779.3 321.7L792 338.5M805.2 321.7L792 338.5M805.2 321.7L817 338.5M716 338.5L741.6 338.5M716 338.5L699.5 355.5M716 338.5L705 355.5M716 338.5L729.2 355.5M741.6 338.5L766.5 338.5M741.6 338.5L729.2 355.5M741.6 338.5L753.9 355.5M766.5 338.5L792 338.5M766.5 338.5L753.9 355.5M766.5 338.5L779.3 355.5M792 338.5L817 338.5M792 338.5L779.3 355.5M792 338.5L805.2 355.5M817 338.5L805.2 355.5M699.5 355.5L716 372.3M705 355.5L729.2 355.5M705 355.5L716 372.3M729.2 355.5L753.9 355.5M729.2 355.5L716 372.3M729.2 355.5L741.6 372.3M753.9 355.5L779.3 355.5M753.9 355.5L741.6 372.3M753.9 355.5L766.5 372.3M779.3 355.5L805.2 355.5M779.3 355.5L766.5 372.3M779.3 355.5L792 372.3M805.2 355.5L792 372.3M805.2 355.5L817 372.3M716 372.3L741.6 372.3M716 372.3L705 389.2M716 372.3L729.2 389.2M741.6 372.3L766.5 372.3M741.6 372.3L729.2 389.2M741.6 372.3L753.9 389.2M766.5 372.3L792 372.3M766.5 372.3L753.9 389.2M766.5 372.3L779.3 389.2M792 372.3L817 372.3M792 372.3L779.3 389.2M792 372.3L805.2 389.2M817 372.3L805.2 389.2M705 389.2L729.2 389.2M729.2 389.2L753.9 389.2M753.9 389.2L779.3 389.2M779.3 389.2L805.2 389.2" stroke="#2a6a9c" stroke-width="1.7" fill="none"/><g fill="url(#gPt)"><circle cx="705" cy="321.7" r="5"/><circle cx="729.2" cy="321.7" r="5"/><circle cx="753.9" cy="321.7" r="5"/><circle cx="779.3" cy="321.7" r="5"/><circle cx="805.2" cy="321.7" r="5"/><circle cx="716" cy="338.5" r="5"/><circle cx="741.6" cy="338.5" r="5"/><circle cx="766.5" cy="338.5" r="5"/><circle cx="792" cy="338.5" r="5"/><circle cx="817" cy="338.5" r="5"/><circle cx="699.5" cy="355.5" r="5"/><circle cx="705" cy="355.5" r="5"/><circle cx="729.2" cy="355.5" r="5"/><circle cx="753.9" cy="355.5" r="5"/><circle cx="779.3" cy="355.5" r="5"/><circle cx="805.2" cy="355.5" r="5"/><circle cx="716" cy="372.3" r="5"/><circle cx="741.6" cy="372.3" r="5"/><circle cx="766.5" cy="372.3" r="5"/><circle cx="792" cy="372.3" r="5"/><circle cx="817" cy="372.3" r="5"/><circle cx="705" cy="389.2" r="5"/><circle cx="729.2" cy="389.2" r="5"/><circle cx="753.9" cy="389.2" r="5"/><circle cx="779.3" cy="389.2" r="5"/><circle cx="805.2" cy="389.2" r="5"/></g></g><g clip-path="url(#c_bL)"><path d="M298.5 766.7L291.6 775.3M298.5 766.7L306 775.3M313.4 766.7L306 775.3M313.4 766.7L320.9 775.3M328.4 766.7L335.9 775.3M328.4 766.7L320.9 775.3M343.3 766.7L335.9 775.3M343.3 766.7L350.8 775.3M358.3 766.7L350.8 775.3M358.3 766.7L365.8 775.3M373.2 766.7L365.8 775.3M373.2 766.7L380.7 775.3M388.2 766.7L380.7 775.3M388.2 766.7L395.6 775.3M403.1 766.7L395.6 775.3M403.1 766.7L410.6 775.3M418.1 766.7L410.6 775.3M418.1 766.7L425.5 775.3M433 766.7L425.5 775.3" stroke="#e8a020" stroke-width="1" fill="none" opacity="0.85"/><path d="M174.2 766L182.8 775.3M189.3 766.8L195.3 775.3M189.3 766.8L182.8 775.3M198.1 768L195.3 775.3M198.1 768L209.4 775.3M215.7 767L209.4 775.3M215.7 767L223.2 775.3M230.7 767.5L223.2 775.3M230.7 767.5L238.2 775.3M247 766.4L252.7 775.3M247 766.4L238.2 775.3M258.3 766.8L252.7 775.3M258.3 766.8L265.9 775.3M270.4 766.4L265.9 775.3M270.4 766.4L278.4 775.3M284.7 766L278.4 775.3M284.7 766L291.6 775.3" stroke="#b58ad6" stroke-width="1" fill="none" opacity="0.85"/><path d="M173 796.2L182.8 787.3M186.8 796.5L182.8 787.3M186.8 796.5L195.3 787.3M200.6 795L195.3 787.3M200.6 795L209.4 787.3M215.7 796.5L209.4 787.3M215.7 796.5L223.2 787.3M229.5 796.5L223.2 787.3M229.5 796.5L238.2 787.3M244.5 797L238.2 787.3M244.5 797L252.7 787.3M258.3 797L252.7 787.3M258.3 797L265.9 787.3M273.4 796L278.4 787.3M273.4 796L265.9 787.3M287.2 796L291.6 787.3M287.2 796L278.4 787.3M298.5 795L291.6 787.3M298.5 795L306 787.3M313.4 795L306 787.3M313.4 795L320.9 787.3M328.4 795L335.9 787.3M328.4 795L320.9 787.3M343.3 795L335.9 787.3M343.3 795L350.8 787.3M358.3 795L350.8 787.3M358.3 795L365.8 787.3M373.2 795L365.8 787.3M373.2 795L380.7 787.3M388.2 795L380.7 787.3M388.2 795L395.6 787.3M403.1 795L395.6 787.3M403.1 795L410.6 787.3M418.1 795L410.6 787.3M418.1 795L425.5 787.3M433 795L425.5 787.3" stroke="#e8a020" stroke-width="1" fill="none" opacity="0.85"/><path d="M178 781.3L182.8 775.3L187.5 781.3L182.8 787.3ZM187.5 781.3L195.3 775.3L203.1 781.3L195.3 787.3ZM203.1 781.3L209.4 775.3L215.7 781.3L209.4 787.3ZM215.7 781.3L223.2 775.3L230.7 781.3L223.2 787.3ZM230.7 781.3L238.2 775.3L245.8 781.3L238.2 787.3ZM245.8 781.3L252.7 775.3L259.6 781.3L252.7 787.3ZM259.6 781.3L265.9 775.3L272.1 781.3L265.9 787.3ZM272.1 781.3L278.4 775.3L284.7 781.3L278.4 787.3ZM284.7 781.3L291.6 775.3L298.5 781.3L291.6 787.3ZM298.5 781.3L306 775.3L313.4 781.3L306 787.3ZM313.4 781.3L320.9 775.3L328.4 781.3L320.9 787.3ZM328.4 781.3L335.9 775.3L343.3 781.3L335.9 787.3ZM343.3 781.3L350.8 775.3L358.3 781.3L350.8 787.3ZM358.3 781.3L365.8 775.3L373.2 781.3L365.8 787.3ZM373.2 781.3L380.7 775.3L388.2 781.3L380.7 787.3ZM388.2 781.3L395.6 775.3L403.1 781.3L395.6 787.3ZM403.1 781.3L410.6 775.3L418.1 781.3L410.6 787.3ZM418.1 781.3L425.5 775.3L433 781.3L425.5 787.3Z" stroke="#3aa6b4" stroke-width="1.5" fill="none"/><g fill="url(#gSe)" stroke="#9a6208" stroke-width="0.8"><circle cx="298.5" cy="766.7" r="3.7"/><circle cx="313.4" cy="766.7" r="3.7"/><circle cx="328.4" cy="766.7" r="3.7"/><circle cx="343.3" cy="766.7" r="3.7"/><circle cx="358.3" cy="766.7" r="3.7"/><circle cx="373.2" cy="766.7" r="3.7"/><circle cx="388.2" cy="766.7" r="3.7"/><circle cx="403.1" cy="766.7" r="3.7"/><circle cx="418.1" cy="766.7" r="3.7"/><circle cx="433" cy="766.7" r="3.7"/><circle cx="173" cy="796.2" r="3.7"/><circle cx="186.8" cy="796.5" r="3.7"/><circle cx="200.6" cy="795" r="3.7"/><circle cx="215.7" cy="796.5" r="3.7"/><circle cx="229.5" cy="796.5" r="3.7"/><circle cx="244.5" cy="797" r="3.7"/><circle cx="258.3" cy="797" r="3.7"/><circle cx="273.4" cy="796" r="3.7"/><circle cx="287.2" cy="796" r="3.7"/><circle cx="298.5" cy="795" r="3.7"/><circle cx="313.4" cy="795" r="3.7"/><circle cx="328.4" cy="795" r="3.7"/><circle cx="343.3" cy="795" r="3.7"/><circle cx="358.3" cy="795" r="3.7"/><circle cx="373.2" cy="795" r="3.7"/><circle cx="388.2" cy="795" r="3.7"/><circle cx="403.1" cy="795" r="3.7"/><circle cx="418.1" cy="795" r="3.7"/><circle cx="433" cy="795" r="3.7"/></g><g fill="url(#gAs)"><circle cx="174.2" cy="766" r="4.1"/><circle cx="189.3" cy="766.8" r="4.1"/><circle cx="198.1" cy="768" r="4.1"/><circle cx="215.7" cy="767" r="4.1"/><circle cx="230.7" cy="767.5" r="4.1"/><circle cx="247" cy="766.4" r="4.1"/><circle cx="258.3" cy="766.8" r="4.1"/><circle cx="270.4" cy="766.4" r="4.1"/><circle cx="284.7" cy="766" r="4.1"/></g><g fill="url(#gMo)"><circle cx="178" cy="781.3" r="4.8"/><circle cx="187.5" cy="781.3" r="4.8"/><circle cx="203.1" cy="781.3" r="4.8"/><circle cx="215.7" cy="781.3" r="4.8"/><circle cx="230.7" cy="781.3" r="4.8"/><circle cx="245.8" cy="781.3" r="4.8"/><circle cx="259.6" cy="781.3" r="4.8"/><circle cx="272.1" cy="781.3" r="4.8"/><circle cx="284.7" cy="781.3" r="4.8"/><circle cx="298.5" cy="781.3" r="4.8"/><circle cx="313.4" cy="781.3" r="4.8"/><circle cx="328.4" cy="781.3" r="4.8"/><circle cx="343.3" cy="781.3" r="4.8"/><circle cx="358.3" cy="781.3" r="4.8"/><circle cx="373.2" cy="781.3" r="4.8"/><circle cx="388.2" cy="781.3" r="4.8"/><circle cx="403.1" cy="781.3" r="4.8"/><circle cx="418.1" cy="781.3" r="4.8"/><circle cx="433" cy="781.3" r="4.8"/></g><path d="M156.7 750L174 765M163 780H178M156.7 810L173 797" stroke="#4a80a8" stroke-width="1" fill="none" opacity="0.8"/><path d="M60.5 748.1L84.6 748.6M60.5 748.1L72.6 763.9M84.6 748.6L109 749.1M84.6 748.6L72.6 763.9M84.6 748.6L96.9 764.4M109 749.1L132.8 749.5M109 749.1L96.9 764.4M109 749.1L120.8 764.9M132.8 749.5L156.7 750M132.8 749.5L120.8 764.9M132.8 749.5L145.4 765.4M156.7 750L145.4 765.4M72.6 763.9L96.9 764.4M72.6 763.9L60.5 779.7M72.6 763.9L84.6 779.7M96.9 764.4L120.8 764.9M96.9 764.4L84.6 779.7M96.9 764.4L109 779.7M120.8 764.9L145.4 765.4M120.8 764.9L109 779.7M120.8 764.9L132.8 779.7M145.4 765.4L132.8 779.7M145.4 765.4L161.5 779.7M60.5 779.7L84.6 779.7M60.5 779.7L72.6 795.3M84.6 779.7L109 779.7M84.6 779.7L72.6 795.3M84.6 779.7L96.9 795.3M109 779.7L132.8 779.7M109 779.7L96.9 795.3M109 779.7L120.8 795.3M132.8 779.7L120.8 795.3M132.8 779.7L145.4 795.3M161.5 779.7L145.4 795.3M72.6 795.3L96.9 795.3M72.6 795.3L60.5 810.8M72.6 795.3L84.6 810.8M96.9 795.3L120.8 795.3M96.9 795.3L84.6 810.8M96.9 795.3L109 810.8M120.8 795.3L145.4 795.3M120.8 795.3L109 810.8M120.8 795.3L132.8 810.8M145.4 795.3L132.8 810.8M145.4 795.3L156.7 810.8M60.5 810.8L84.6 810.8M84.6 810.8L109 810.8M109 810.8L132.8 810.8M132.8 810.8L156.7 810.8" stroke="#2a6a9c" stroke-width="1.7" fill="none"/><g fill="url(#gPt)"><circle cx="60.5" cy="748.1" r="5"/><circle cx="84.6" cy="748.6" r="5"/><circle cx="109" cy="749.1" r="5"/><circle cx="132.8" cy="749.5" r="5"/><circle cx="156.7" cy="750" r="5"/><circle cx="72.6" cy="763.9" r="5"/><circle cx="96.9" cy="764.4" r="5"/><circle cx="120.8" cy="764.9" r="5"/><circle cx="145.4" cy="765.4" r="5"/><circle cx="60.5" cy="779.7" r="5"/><circle cx="84.6" cy="779.7" r="5"/><circle cx="109" cy="779.7" r="5"/><circle cx="132.8" cy="779.7" r="5"/><circle cx="161.5" cy="779.7" r="5"/><circle cx="72.6" cy="795.3" r="5"/><circle cx="96.9" cy="795.3" r="5"/><circle cx="120.8" cy="795.3" r="5"/><circle cx="145.4" cy="795.3" r="5"/><circle cx="60.5" cy="810.8" r="5"/><circle cx="84.6" cy="810.8" r="5"/><circle cx="109" cy="810.8" r="5"/><circle cx="132.8" cy="810.8" r="5"/><circle cx="156.7" cy="810.8" r="5"/></g></g><g clip-path="url(#c_bR)"><path d="M431 766.9L438.2 775.5M445.4 766.9L438.2 775.5M445.4 766.9L452.6 775.5M459.8 766.9L452.6 775.5M459.8 766.9L467.1 775.5M474.3 766.9L467.1 775.5M474.3 766.9L481.5 775.5M488.7 766.9L481.5 775.5M488.7 766.9L495.9 775.5M503.1 766.9L495.9 775.5M503.1 766.9L510.3 775.5M517.5 766.9L510.3 775.5M517.5 766.9L524.7 775.5M532 766.9L524.7 775.5M532 766.9L539.2 775.5M546.4 766.9L539.2 775.5M546.4 766.9L553.6 775.5M560.8 766.9L567.9 775.5M560.8 766.9L553.6 775.5" stroke="#e8a020" stroke-width="1" fill="none" opacity="0.85"/><path d="M576.3 767L582.1 775.5M576.3 767L567.9 775.5M591.4 767.3L596 775.5M591.4 767.3L582.1 775.5M602.7 767L596 775.5M602.7 767L609.6 775.5M615.2 767.3L609.6 775.5M615.2 767.3L623.6 775.5M630.8 768L623.6 775.5M630.8 768L638.3 775.5M645.3 767L638.3 775.5M645.3 767L652.5 775.5M662.9 768L666.7 775.5M662.9 768L652.5 775.5M672.4 765L666.7 775.5M672.4 765L678.6 775.5M687.5 764L678.6 775.5" stroke="#b58ad6" stroke-width="1" fill="none" opacity="0.85"/><path d="M431 795.6L438.2 787.5M445.4 795.6L438.2 787.5M445.4 795.6L452.6 787.5M459.8 795.6L452.6 787.5M459.8 795.6L467.1 787.5M474.3 795.6L467.1 787.5M474.3 795.6L481.5 787.5M488.7 795.6L481.5 787.5M488.7 795.6L495.9 787.5M503.1 795.6L495.9 787.5M503.1 795.6L510.3 787.5M517.5 795.6L510.3 787.5M517.5 795.6L524.7 787.5M532 795.6L524.7 787.5M532 795.6L539.2 787.5M546.4 795.6L539.2 787.5M546.4 795.6L553.6 787.5M560.8 795.6L567.9 787.5M560.8 795.6L553.6 787.5M572.5 795L567.9 787.5M572.5 795L582.1 787.5M587.6 797L582.1 787.5M587.6 797L596 787.5M602.7 797L596 787.5M602.7 797L609.6 787.5M617.2 796.5L623.6 787.5M617.2 796.5L609.6 787.5M631.5 795.5L638.3 787.5M631.5 795.5L623.6 787.5M644.8 795.5L638.3 787.5M644.8 795.5L652.5 787.5M660.4 795.5L666.7 787.5M660.4 795.5L652.5 787.5M673.4 796.5L678.6 787.5M673.4 796.5L666.7 787.5M687.5 796L678.6 787.5" stroke="#e8a020" stroke-width="1" fill="none" opacity="0.85"/><path d="M431 781.5L438.2 775.5L445.4 781.5L438.2 787.5ZM445.4 781.5L452.6 775.5L459.8 781.5L452.6 787.5ZM459.8 781.5L467.1 775.5L474.3 781.5L467.1 787.5ZM474.3 781.5L481.5 775.5L488.7 781.5L481.5 787.5ZM488.7 781.5L495.9 775.5L503.1 781.5L495.9 787.5ZM503.1 781.5L510.3 775.5L517.5 781.5L510.3 787.5ZM517.5 781.5L524.7 775.5L532 781.5L524.7 787.5ZM532 781.5L539.2 775.5L546.4 781.5L539.2 787.5ZM546.4 781.5L553.6 775.5L560.8 781.5L553.6 787.5ZM560.8 781.5L567.9 775.5L575 781.5L567.9 787.5ZM575 781.5L582.1 775.5L589.3 781.5L582.1 787.5ZM589.3 781.5L596 775.5L602.7 781.5L596 787.5ZM602.7 781.5L609.6 775.5L616.5 781.5L609.6 787.5ZM616.5 781.5L623.6 775.5L630.8 781.5L623.6 787.5ZM630.8 781.5L638.3 775.5L645.8 781.5L638.3 787.5ZM645.8 781.5L652.5 775.5L659.1 781.5L652.5 787.5ZM659.1 781.5L666.7 775.5L674.2 781.5L666.7 787.5ZM674.2 781.5L678.6 775.5L683 781.5L678.6 787.5Z" stroke="#3aa6b4" stroke-width="1.5" fill="none"/><g fill="url(#gSe)" stroke="#9a6208" stroke-width="0.8"><circle cx="431" cy="766.9" r="3.7"/><circle cx="445.4" cy="766.9" r="3.7"/><circle cx="459.8" cy="766.9" r="3.7"/><circle cx="474.3" cy="766.9" r="3.7"/><circle cx="488.7" cy="766.9" r="3.7"/><circle cx="503.1" cy="766.9" r="3.7"/><circle cx="517.5" cy="766.9" r="3.7"/><circle cx="532" cy="766.9" r="3.7"/><circle cx="546.4" cy="766.9" r="3.7"/><circle cx="560.8" cy="766.9" r="3.7"/><circle cx="431" cy="795.6" r="3.7"/><circle cx="445.4" cy="795.6" r="3.7"/><circle cx="459.8" cy="795.6" r="3.7"/><circle cx="474.3" cy="795.6" r="3.7"/><circle cx="488.7" cy="795.6" r="3.7"/><circle cx="503.1" cy="795.6" r="3.7"/><circle cx="517.5" cy="795.6" r="3.7"/><circle cx="532" cy="795.6" r="3.7"/><circle cx="546.4" cy="795.6" r="3.7"/><circle cx="560.8" cy="795.6" r="3.7"/><circle cx="572.5" cy="795" r="3.7"/><circle cx="587.6" cy="797" r="3.7"/><circle cx="602.7" cy="797" r="3.7"/><circle cx="617.2" cy="796.5" r="3.7"/><circle cx="631.5" cy="795.5" r="3.7"/><circle cx="644.8" cy="795.5" r="3.7"/><circle cx="660.4" cy="795.5" r="3.7"/><circle cx="673.4" cy="796.5" r="3.7"/><circle cx="687.5" cy="796" r="3.7"/></g><g fill="url(#gAs)"><circle cx="576.3" cy="767" r="4.1"/><circle cx="591.4" cy="767.3" r="4.1"/><circle cx="602.7" cy="767" r="4.1"/><circle cx="615.2" cy="767.3" r="4.1"/><circle cx="630.8" cy="768" r="4.1"/><circle cx="645.3" cy="767" r="4.1"/><circle cx="662.9" cy="768" r="4.1"/><circle cx="672.4" cy="765" r="4.1"/><circle cx="687.5" cy="764" r="4.1"/></g><g fill="url(#gMo)"><circle cx="431" cy="781.5" r="4.8"/><circle cx="445.4" cy="781.5" r="4.8"/><circle cx="459.8" cy="781.5" r="4.8"/><circle cx="474.3" cy="781.5" r="4.8"/><circle cx="488.7" cy="781.5" r="4.8"/><circle cx="503.1" cy="781.5" r="4.8"/><circle cx="517.5" cy="781.5" r="4.8"/><circle cx="532" cy="781.5" r="4.8"/><circle cx="546.4" cy="781.5" r="4.8"/><circle cx="560.8" cy="781.5" r="4.8"/><circle cx="575" cy="781.5" r="4.8"/><circle cx="589.3" cy="781.5" r="4.8"/><circle cx="602.7" cy="781.5" r="4.8"/><circle cx="616.5" cy="781.5" r="4.8"/><circle cx="630.8" cy="781.5" r="4.8"/><circle cx="645.8" cy="781.5" r="4.8"/><circle cx="659.1" cy="781.5" r="4.8"/><circle cx="674.2" cy="781.5" r="4.8"/><circle cx="683" cy="781.5" r="4.8"/></g><path d="M704.3 750L688 764M698 780H684M704.3 810L688 797" stroke="#4a80a8" stroke-width="1" fill="none" opacity="0.8"/><path d="M704.3 748.1L728.2 748.1M704.3 748.1L715.6 763.9M728.2 748.1L752 748.1M728.2 748.1L715.6 763.9M728.2 748.1L740 763.9M752 748.1L775.8 748.1M752 748.1L740 763.9M752 748.1L764 763.9M775.8 748.1L801 748.1M775.8 748.1L764 763.9M775.8 748.1L788.4 763.9M801 748.1L788.4 763.9M801 748.1L813 763.9M715.6 763.9L740 763.9M715.6 763.9L700 779.7M715.6 763.9L728.2 779.7M740 763.9L764 763.9M740 763.9L728.2 779.7M740 763.9L752 779.7M764 763.9L788.4 763.9M764 763.9L752 779.7M764 763.9L775.8 779.7M788.4 763.9L813 763.9M788.4 763.9L775.8 779.7M788.4 763.9L801 779.7M813 763.9L801 779.7M700 779.7L715.6 795.3M728.2 779.7L752 779.7M728.2 779.7L715.6 795.3M728.2 779.7L740 795.3M752 779.7L775.8 779.7M752 779.7L740 795.3M752 779.7L764 795.3M775.8 779.7L801 779.7M775.8 779.7L764 795.3M775.8 779.7L788.4 795.3M801 779.7L788.4 795.3M801 779.7L813 795.3M715.6 795.3L740 795.3M715.6 795.3L704.3 810.8M715.6 795.3L728.2 810.8M740 795.3L764 795.3M740 795.3L728.2 810.8M740 795.3L752 810.8M764 795.3L788.4 795.3M764 795.3L752 810.8M764 795.3L775.8 810.8M788.4 795.3L813 795.3M788.4 795.3L775.8 810.8M788.4 795.3L801 810.8M813 795.3L801 810.8M704.3 810.8L728.2 810.8M728.2 810.8L752 810.8M752 810.8L775.8 810.8M775.8 810.8L801 810.8" stroke="#2a6a9c" stroke-width="1.7" fill="none"/><g fill="url(#gPt)"><circle cx="704.3" cy="748.1" r="5"/><circle cx="728.2" cy="748.1" r="5"/><circle cx="752" cy="748.1" r="5"/><circle cx="775.8" cy="748.1" r="5"/><circle cx="801" cy="748.1" r="5"/><circle cx="715.6" cy="763.9" r="5"/><circle cx="740" cy="763.9" r="5"/><circle cx="764" cy="763.9" r="5"/><circle cx="788.4" cy="763.9" r="5"/><circle cx="813" cy="763.9" r="5"/><circle cx="700" cy="779.7" r="5"/><circle cx="728.2" cy="779.7" r="5"/><circle cx="752" cy="779.7" r="5"/><circle cx="775.8" cy="779.7" r="5"/><circle cx="801" cy="779.7" r="5"/><circle cx="715.6" cy="795.3" r="5"/><circle cx="740" cy="795.3" r="5"/><circle cx="764" cy="795.3" r="5"/><circle cx="788.4" cy="795.3" r="5"/><circle cx="813" cy="795.3" r="5"/><circle cx="704.3" cy="810.8" r="5"/><circle cx="728.2" cy="810.8" r="5"/><circle cx="752" cy="810.8" r="5"/><circle cx="775.8" cy="810.8" r="5"/><circle cx="801" cy="810.8" r="5"/></g></g><g clip-path="url(#c_cL)"><path d="M314.3 1192.2L306.9 1198.8M314.3 1192.2L321.9 1199.4M329.6 1192.2L321.9 1199.4M329.6 1192.2L337.2 1199.4M344.9 1192.2L352.5 1199.4M344.9 1192.2L337.2 1199.4M360.1 1192.2L352.5 1199.4M360.1 1192.2L367.8 1199.4M375.4 1192.2L367.8 1199.4M375.4 1192.2L383 1199.4M390.7 1192.2L383 1199.4M390.7 1192.2L398.3 1199.4M405.9 1192.2L398.3 1199.4M405.9 1192.2L413.6 1199.4M421.2 1192.2L428.9 1199.4M421.2 1192.2L413.6 1199.4M436.5 1192.2L428.9 1199.4" stroke="#e8a020" stroke-width="1" fill="none" opacity="0.85"/><path d="M188.8 1192.4L188.2 1202.1M188.8 1192.4L201.1 1200.8M204.5 1192.4L201.1 1200.8M204.5 1192.4L215.3 1199.2M221.3 1188.4L215.3 1199.2M221.3 1188.4L229.6 1197.9M237 1188.4L229.6 1197.9M237 1188.4L246.5 1197.5M253.3 1189.7L246.5 1197.5M253.3 1189.7L262.8 1197.5M268.2 1186.2L262.8 1197.5M268.2 1186.2L277.1 1197.9M283.7 1189.7L277.1 1197.9M283.7 1189.7L291.9 1198.3M299.4 1188.9L291.9 1198.3M299.4 1188.9L306.9 1198.8" stroke="#9a2a3a" stroke-width="1" fill="none" opacity="0.85"/><path d="M178.8 1222.3L188.2 1214.1M196.4 1222.3L201.1 1212.8M196.4 1222.3L188.2 1214.1M209.9 1217.6L215.3 1211.2M209.9 1217.6L201.1 1212.8M225.7 1217.6L229.6 1209.9M225.7 1217.6L215.3 1211.2M239.8 1216L246.5 1209.5M239.8 1216L229.6 1209.9M254.7 1216L262.8 1209.5M254.7 1216L246.5 1209.5M269.6 1217.6L262.8 1209.5M269.6 1217.6L277.1 1209.9M283.1 1216L277.1 1209.9M283.1 1216L291.9 1210.3M300.7 1217.6L306.9 1210.8M300.7 1217.6L291.9 1210.3M314.3 1218L306.9 1210.8M314.3 1218L321.9 1211.4M329.6 1218L321.9 1211.4M329.6 1218L337.2 1211.4M344.9 1218L352.5 1211.4M344.9 1218L337.2 1211.4M360.1 1218L352.5 1211.4M360.1 1218L367.8 1211.4M375.4 1218L367.8 1211.4M375.4 1218L383 1211.4M390.7 1218L383 1211.4M390.7 1218L398.3 1211.4M405.9 1218L398.3 1211.4M405.9 1218L413.6 1211.4M421.2 1218L428.9 1211.4M421.2 1218L413.6 1211.4M436.5 1218L428.9 1211.4" stroke="#e8a020" stroke-width="1" fill="none" opacity="0.85"/><path d="M182.8 1208.7L188.2 1202.1L193.7 1207.5L188.2 1214.1ZM193.7 1207.5L201.1 1200.8L208.6 1206L201.1 1212.8ZM208.6 1206L215.3 1199.2L222.1 1204.3L215.3 1211.2ZM222.1 1204.3L229.6 1197.9L237 1203.5L229.6 1209.9ZM237 1203.5L246.5 1197.5L256 1203.5L246.5 1209.5ZM256 1203.5L262.8 1197.5L269.6 1203.5L262.8 1209.5ZM269.6 1203.5L277.1 1197.9L284.5 1204.3L277.1 1209.9ZM284.5 1204.3L291.9 1198.3L299.4 1204.3L291.9 1210.3ZM299.4 1204.3L306.9 1198.8L314.3 1205.4L306.9 1210.8ZM314.3 1205.4L321.9 1199.4L329.6 1205.4L321.9 1211.4ZM329.6 1205.4L337.2 1199.4L344.9 1205.4L337.2 1211.4ZM344.9 1205.4L352.5 1199.4L360.1 1205.4L352.5 1211.4ZM360.1 1205.4L367.8 1199.4L375.4 1205.4L367.8 1211.4ZM375.4 1205.4L383 1199.4L390.7 1205.4L383 1211.4ZM390.7 1205.4L398.3 1199.4L405.9 1205.4L398.3 1211.4ZM405.9 1205.4L413.6 1199.4L421.2 1205.4L413.6 1211.4ZM421.2 1205.4L428.9 1199.4L436.5 1205.4L428.9 1211.4Z" stroke="#3aa6b4" stroke-width="1.5" fill="none"/><g fill="url(#gSe)" stroke="#9a6208" stroke-width="0.8"><circle cx="314.3" cy="1192.2" r="3.7"/><circle cx="329.6" cy="1192.2" r="3.7"/><circle cx="344.9" cy="1192.2" r="3.7"/><circle cx="360.1" cy="1192.2" r="3.7"/><circle cx="375.4" cy="1192.2" r="3.7"/><circle cx="390.7" cy="1192.2" r="3.7"/><circle cx="405.9" cy="1192.2" r="3.7"/><circle cx="421.2" cy="1192.2" r="3.7"/><circle cx="436.5" cy="1192.2" r="3.7"/><circle cx="178.8" cy="1222.3" r="3.7"/><circle cx="196.4" cy="1222.3" r="3.7"/><circle cx="209.9" cy="1217.6" r="3.7"/><circle cx="225.7" cy="1217.6" r="3.7"/><circle cx="239.8" cy="1216" r="3.7"/><circle cx="254.7" cy="1216" r="3.7"/><circle cx="269.6" cy="1217.6" r="3.7"/><circle cx="283.1" cy="1216" r="3.7"/><circle cx="300.7" cy="1217.6" r="3.7"/><circle cx="314.3" cy="1218" r="3.7"/><circle cx="329.6" cy="1218" r="3.7"/><circle cx="344.9" cy="1218" r="3.7"/><circle cx="360.1" cy="1218" r="3.7"/><circle cx="375.4" cy="1218" r="3.7"/><circle cx="390.7" cy="1218" r="3.7"/><circle cx="405.9" cy="1218" r="3.7"/><circle cx="421.2" cy="1218" r="3.7"/><circle cx="436.5" cy="1218" r="3.7"/></g><g fill="url(#gBr)"><circle cx="188.8" cy="1192.4" r="4.1"/><circle cx="204.5" cy="1192.4" r="4.1"/><circle cx="221.3" cy="1188.4" r="4.1"/><circle cx="237" cy="1188.4" r="4.1"/><circle cx="253.3" cy="1189.7" r="4.1"/><circle cx="268.2" cy="1186.2" r="4.1"/><circle cx="283.7" cy="1189.7" r="4.1"/><circle cx="299.4" cy="1188.9" r="4.1"/></g><g fill="url(#gMo)"><circle cx="182.8" cy="1208.7" r="4.8"/><circle cx="193.7" cy="1207.5" r="4.8"/><circle cx="208.6" cy="1206" r="4.8"/><circle cx="222.1" cy="1204.3" r="4.8"/><circle cx="237" cy="1203.5" r="4.8"/><circle cx="256" cy="1203.5" r="4.8"/><circle cx="269.6" cy="1203.5" r="4.8"/><circle cx="284.5" cy="1204.3" r="4.8"/><circle cx="299.4" cy="1204.3" r="4.8"/><circle cx="314.3" cy="1205.4" r="4.8"/><circle cx="329.6" cy="1205.4" r="4.8"/><circle cx="344.9" cy="1205.4" r="4.8"/><circle cx="360.1" cy="1205.4" r="4.8"/><circle cx="375.4" cy="1205.4" r="4.8"/><circle cx="390.7" cy="1205.4" r="4.8"/><circle cx="405.9" cy="1205.4" r="4.8"/><circle cx="421.2" cy="1205.4" r="4.8"/><circle cx="436.5" cy="1205.4" r="4.8"/></g><path d="M161.1 1176L172.5 1164M167.1 1204.5L182 1208" stroke="#4a80a8" stroke-width="1.2" fill="none" opacity="0.9"/><path d="M60.8 1174.3L85.8 1175M60.8 1174.3L73.9 1188.9M85.8 1175L111.8 1175.8M85.8 1175L73.9 1188.9M85.8 1175L98.8 1189.6M111.8 1175.8L137.3 1176.6M111.8 1175.8L98.8 1189.6M111.8 1175.8L124.5 1190.4M137.3 1176.6L161.1 1177.3M137.3 1176.6L124.5 1190.4M137.3 1176.6L150.8 1191.2M161.1 1177.3L150.8 1191.2M73.9 1188.9L98.8 1189.6M73.9 1188.9L60.8 1204.1M73.9 1188.9L85.8 1204.6M98.8 1189.6L124.5 1190.4M98.8 1189.6L85.8 1204.6M98.8 1189.6L111.8 1205.1M124.5 1190.4L150.8 1191.2M124.5 1190.4L111.8 1205.1M124.5 1190.4L137.3 1205.6M150.8 1191.2L137.3 1205.6M150.8 1191.2L167.1 1206.2M60.8 1204.1L85.8 1204.6M60.8 1204.1L73.9 1218.7M85.8 1204.6L111.8 1205.1M85.8 1204.6L73.9 1218.7M85.8 1204.6L98.8 1218.7M111.8 1205.1L137.3 1205.6M111.8 1205.1L98.8 1218.7M111.8 1205.1L124.5 1218.7M137.3 1205.6L124.5 1218.7M137.3 1205.6L150.8 1218.7M167.1 1206.2L150.8 1218.7M73.9 1218.7L98.8 1218.7M73.9 1218.7L60.8 1233.9M73.9 1218.7L85.8 1233.9M98.8 1218.7L124.5 1218.7M98.8 1218.7L85.8 1233.9M98.8 1218.7L111.8 1233.9M124.5 1218.7L150.8 1218.7M124.5 1218.7L111.8 1233.9M124.5 1218.7L137.3 1233.9M150.8 1218.7L137.3 1233.9M150.8 1218.7L161.1 1233.9M60.8 1233.9L85.8 1233.9M85.8 1233.9L111.8 1233.9M111.8 1233.9L137.3 1233.9M137.3 1233.9L161.1 1233.9" stroke="#2a6a9c" stroke-width="1.7" fill="none"/><g fill="url(#gPt)"><circle cx="60.8" cy="1174.3" r="5"/><circle cx="85.8" cy="1175" r="5"/><circle cx="111.8" cy="1175.8" r="5"/><circle cx="137.3" cy="1176.6" r="5"/><circle cx="161.1" cy="1177.3" r="5"/><circle cx="73.9" cy="1188.9" r="5"/><circle cx="98.8" cy="1189.6" r="5"/><circle cx="124.5" cy="1190.4" r="5"/><circle cx="150.8" cy="1191.2" r="5"/><circle cx="60.8" cy="1204.1" r="5"/><circle cx="85.8" cy="1204.6" r="5"/><circle cx="111.8" cy="1205.1" r="5"/><circle cx="137.3" cy="1205.6" r="5"/><circle cx="167.1" cy="1206.2" r="5"/><circle cx="73.9" cy="1218.7" r="5"/><circle cx="98.8" cy="1218.7" r="5"/><circle cx="124.5" cy="1218.7" r="5"/><circle cx="150.8" cy="1218.7" r="5"/><circle cx="60.8" cy="1233.9" r="5"/><circle cx="85.8" cy="1233.9" r="5"/><circle cx="111.8" cy="1233.9" r="5"/><circle cx="137.3" cy="1233.9" r="5"/><circle cx="161.1" cy="1233.9" r="5"/></g><circle cx="172.5" cy="1164" r="4.1" fill="url(#gBr)"/></g><g clip-path="url(#c_cR)"><path d="M435.3 1192.4L442.6 1199.4M449.9 1192.4L442.6 1199.4M449.9 1192.4L457.1 1199.4M464.4 1192.4L457.1 1199.4M464.4 1192.4L471.7 1199.4M479 1192.4L471.7 1199.4M479 1192.4L486.2 1199.4M493.5 1192.4L486.2 1199.4M493.5 1192.4L500.8 1199.4M508.1 1192.4L515.3 1199.4M508.1 1192.4L500.8 1199.4M522.6 1192.4L515.3 1199.4M522.6 1192.4L529.9 1199.4M537.2 1192.4L544.4 1199.4M537.2 1192.4L529.9 1199.4M551.7 1192.4L544.4 1199.4M551.7 1192.4L561 1199.3" stroke="#e8a020" stroke-width="1" fill="none" opacity="0.85"/><path d="M570.3 1191.6L577.5 1199.2M570.3 1191.6L561 1199.3M585.2 1191.6L592.4 1198.7M585.2 1191.6L577.5 1199.2M601 1187.8L607.6 1198.1M601 1187.8L592.4 1198.7M616.4 1191.6L623.9 1198.1M616.4 1191.6L607.6 1198.1M632.7 1189.7L639.5 1198.7M632.7 1189.7L623.9 1198.1M647.6 1189.7L653.7 1200M647.6 1189.7L639.5 1198.7M664.4 1193.8L669 1201.8M664.4 1193.8L653.7 1200M680.1 1193.8L681.9 1203.3M680.1 1193.8L669 1201.8" stroke="#9a2a3a" stroke-width="1" fill="none" opacity="0.85"/><path d="M435.3 1218L442.6 1211.4M449.9 1218L442.6 1211.4M449.9 1218L457.1 1211.4M464.4 1218L457.1 1211.4M464.4 1218L471.7 1211.4M479 1218L471.7 1211.4M479 1218L486.2 1211.4M493.5 1218L486.2 1211.4M493.5 1218L500.8 1211.4M508.1 1218L515.3 1211.4M508.1 1218L500.8 1211.4M522.6 1218L515.3 1211.4M522.6 1218L529.9 1211.4M537.2 1218L544.4 1211.4M537.2 1218L529.9 1211.4M551.7 1218L544.4 1211.4M551.7 1218L561 1211.3M570.3 1217.6L577.5 1211.2M570.3 1217.6L561 1211.3M585.2 1216.8L592.4 1210.7M585.2 1216.8L577.5 1211.2M600.1 1217.6L607.6 1210.1M600.1 1217.6L592.4 1210.7M615.1 1216L607.6 1210.1M615.1 1216L623.9 1210.1M630 1216.8L623.9 1210.1M630 1216.8L639.5 1210.7M643.5 1218.2L639.5 1210.7M643.5 1218.2L653.7 1212M659.8 1218.2L653.7 1212M659.8 1218.2L669 1213.8M673.3 1222.3L669 1213.8M673.3 1222.3L681.9 1215.3M691 1223L681.9 1215.3" stroke="#e8a020" stroke-width="1" fill="none" opacity="0.85"/><path d="M435.3 1205.4L442.6 1199.4L449.9 1205.4L442.6 1211.4ZM449.9 1205.4L457.1 1199.4L464.4 1205.4L457.1 1211.4ZM464.4 1205.4L471.7 1199.4L479 1205.4L471.7 1211.4ZM479 1205.4L486.2 1199.4L493.5 1205.4L486.2 1211.4ZM493.5 1205.4L500.8 1199.4L508.1 1205.4L500.8 1211.4ZM508.1 1205.4L515.3 1199.4L522.6 1205.4L515.3 1211.4ZM522.6 1205.4L529.9 1199.4L537.2 1205.4L529.9 1211.4ZM537.2 1205.4L544.4 1199.4L551.7 1205.4L544.4 1211.4ZM551.7 1205.4L561 1199.3L570.3 1205.2L561 1211.3ZM570.3 1205.2L577.5 1199.2L584.7 1205.2L577.5 1211.2ZM584.7 1205.2L592.4 1198.7L600.1 1204.1L592.4 1210.7ZM600.1 1204.1L607.6 1198.1L615.1 1204.1L607.6 1210.1ZM615.1 1204.1L623.9 1198.1L632.7 1204.1L623.9 1210.1ZM632.7 1204.1L639.5 1198.7L646.2 1205.2L639.5 1210.7ZM646.2 1205.2L653.7 1200L661.1 1206.8L653.7 1212ZM661.1 1206.8L669 1201.8L676.9 1208.7L669 1213.8ZM676.9 1208.7L681.9 1203.3L686.9 1210L681.9 1215.3Z" stroke="#3aa6b4" stroke-width="1.5" fill="none"/><g fill="url(#gSe)" stroke="#9a6208" stroke-width="0.8"><circle cx="435.3" cy="1192.4" r="3.7"/><circle cx="449.9" cy="1192.4" r="3.7"/><circle cx="464.4" cy="1192.4" r="3.7"/><circle cx="479" cy="1192.4" r="3.7"/><circle cx="493.5" cy="1192.4" r="3.7"/><circle cx="508.1" cy="1192.4" r="3.7"/><circle cx="522.6" cy="1192.4" r="3.7"/><circle cx="537.2" cy="1192.4" r="3.7"/><circle cx="551.7" cy="1192.4" r="3.7"/><circle cx="435.3" cy="1218" r="3.7"/><circle cx="449.9" cy="1218" r="3.7"/><circle cx="464.4" cy="1218" r="3.7"/><circle cx="479" cy="1218" r="3.7"/><circle cx="493.5" cy="1218" r="3.7"/><circle cx="508.1" cy="1218" r="3.7"/><circle cx="522.6" cy="1218" r="3.7"/><circle cx="537.2" cy="1218" r="3.7"/><circle cx="551.7" cy="1218" r="3.7"/><circle cx="570.3" cy="1217.6" r="3.7"/><circle cx="585.2" cy="1216.8" r="3.7"/><circle cx="600.1" cy="1217.6" r="3.7"/><circle cx="615.1" cy="1216" r="3.7"/><circle cx="630" cy="1216.8" r="3.7"/><circle cx="643.5" cy="1218.2" r="3.7"/><circle cx="659.8" cy="1218.2" r="3.7"/><circle cx="673.3" cy="1222.3" r="3.7"/><circle cx="691" cy="1223" r="3.7"/></g><g fill="url(#gBr)"><circle cx="570.3" cy="1191.6" r="4.1"/><circle cx="585.2" cy="1191.6" r="4.1"/><circle cx="601" cy="1187.8" r="4.1"/><circle cx="616.4" cy="1191.6" r="4.1"/><circle cx="632.7" cy="1189.7" r="4.1"/><circle cx="647.6" cy="1189.7" r="4.1"/><circle cx="664.4" cy="1193.8" r="4.1"/><circle cx="680.1" cy="1193.8" r="4.1"/></g><g fill="url(#gMo)"><circle cx="435.3" cy="1205.4" r="4.8"/><circle cx="449.9" cy="1205.4" r="4.8"/><circle cx="464.4" cy="1205.4" r="4.8"/><circle cx="479" cy="1205.4" r="4.8"/><circle cx="493.5" cy="1205.4" r="4.8"/><circle cx="508.1" cy="1205.4" r="4.8"/><circle cx="522.6" cy="1205.4" r="4.8"/><circle cx="537.2" cy="1205.4" r="4.8"/><circle cx="551.7" cy="1205.4" r="4.8"/><circle cx="570.3" cy="1205.2" r="4.8"/><circle cx="584.7" cy="1205.2" r="4.8"/><circle cx="600.1" cy="1204.1" r="4.8"/><circle cx="615.1" cy="1204.1" r="4.8"/><circle cx="632.7" cy="1204.1" r="4.8"/><circle cx="646.2" cy="1205.2" r="4.8"/><circle cx="661.1" cy="1206.8" r="4.8"/><circle cx="676.9" cy="1208.7" r="4.8"/><circle cx="686.9" cy="1210" r="4.8"/></g><path d="M705.9 1178L696.4 1165.3M702 1207.3L687 1210" stroke="#4a80a8" stroke-width="1.2" fill="none" opacity="0.9"/><path d="M705.9 1178.1L731.1 1178.1M705.9 1178.1L717.5 1192.4M731.1 1178.1L756.6 1178.1M731.1 1178.1L717.5 1192.4M731.1 1178.1L743.8 1192.4M756.6 1178.1L781.8 1178.1M756.6 1178.1L743.8 1192.4M756.6 1178.1L769 1192.4M781.8 1178.1L807 1178.1M781.8 1178.1L769 1192.4M781.8 1178.1L794.5 1192.4M807 1178.1L794.5 1192.4M807 1178.1L820 1192.4M717.5 1192.4L743.8 1192.4M717.5 1192.4L702.3 1207.3M717.5 1192.4L731.1 1207.3M743.8 1192.4L769 1192.4M743.8 1192.4L731.1 1207.3M743.8 1192.4L756.6 1207.3M769 1192.4L794.5 1192.4M769 1192.4L756.6 1207.3M769 1192.4L781.8 1207.3M794.5 1192.4L820 1192.4M794.5 1192.4L781.8 1207.3M794.5 1192.4L807 1207.3M820 1192.4L807 1207.3M702.3 1207.3L717.5 1220.9M731.1 1207.3L756.6 1207.3M731.1 1207.3L717.5 1220.9M731.1 1207.3L743.8 1220.9M756.6 1207.3L781.8 1207.3M756.6 1207.3L743.8 1220.9M756.6 1207.3L769 1220.9M781.8 1207.3L807 1207.3M781.8 1207.3L769 1220.9M781.8 1207.3L794.5 1220.9M807 1207.3L794.5 1220.9M807 1207.3L820 1220.9M717.5 1220.9L743.8 1220.9M717.5 1220.9L705.9 1234.5M717.5 1220.9L731.1 1234.5M743.8 1220.9L769 1220.9M743.8 1220.9L731.1 1234.5M743.8 1220.9L756.6 1234.5M769 1220.9L794.5 1220.9M769 1220.9L756.6 1234.5M769 1220.9L781.8 1234.5M794.5 1220.9L820 1220.9M794.5 1220.9L781.8 1234.5M794.5 1220.9L807 1234.5M820 1220.9L807 1234.5M705.9 1234.5L731.1 1234.5M731.1 1234.5L756.6 1234.5M756.6 1234.5L781.8 1234.5M781.8 1234.5L807 1234.5" stroke="#2a6a9c" stroke-width="1.7" fill="none"/><g fill="url(#gPt)"><circle cx="705.9" cy="1178.1" r="5"/><circle cx="731.1" cy="1178.1" r="5"/><circle cx="756.6" cy="1178.1" r="5"/><circle cx="781.8" cy="1178.1" r="5"/><circle cx="807" cy="1178.1" r="5"/><circle cx="717.5" cy="1192.4" r="5"/><circle cx="743.8" cy="1192.4" r="5"/><circle cx="769" cy="1192.4" r="5"/><circle cx="794.5" cy="1192.4" r="5"/><circle cx="820" cy="1192.4" r="5"/><circle cx="702.3" cy="1207.3" r="5"/><circle cx="731.1" cy="1207.3" r="5"/><circle cx="756.6" cy="1207.3" r="5"/><circle cx="781.8" cy="1207.3" r="5"/><circle cx="807" cy="1207.3" r="5"/><circle cx="717.5" cy="1220.9" r="5"/><circle cx="743.8" cy="1220.9" r="5"/><circle cx="769" cy="1220.9" r="5"/><circle cx="794.5" cy="1220.9" r="5"/><circle cx="820" cy="1220.9" r="5"/><circle cx="705.9" cy="1234.5" r="5"/><circle cx="731.1" cy="1234.5" r="5"/><circle cx="756.6" cy="1234.5" r="5"/><circle cx="781.8" cy="1234.5" r="5"/><circle cx="807" cy="1234.5" r="5"/></g><circle cx="696.4" cy="1165.3" r="4.1" fill="url(#gBr)"/></g>
<rect x="58.4" y="41" width="367.6" height="352.5" fill="none" stroke="#2a2a33" stroke-width="1.6"/>
<path d="M57.4 393.8H427" stroke="#000" stroke-width="2.2"/>
<path d="M51.4 41.1H58.4M54.4 70.4H58.4M51.4 99.8H58.4M54.4 129.2H58.4M51.4 158.6H58.4M54.4 187.9H58.4M51.4 217.3H58.4M54.4 246.7H58.4M51.4 276.1H58.4M54.4 305.4H58.4M51.4 334.8H58.4M54.4 364.2H58.4M51.4 393.6H58.4" stroke="#222" stroke-width="1.8"/>
<text x="45.9" y="45.8" font-size="13.5" text-anchor="end" class="ss" fill="#2b2b2b">3</text>
<text x="45.9" y="104.5" font-size="13.5" text-anchor="end" class="ss" fill="#2b2b2b">2</text>
<text x="45.9" y="163.2" font-size="13.5" text-anchor="end" class="ss" fill="#2b2b2b">1</text>
<text x="45.9" y="222" font-size="13.5" text-anchor="end" class="ss" fill="#2b2b2b">0</text>
<text x="45.9" y="280.8" font-size="13.5" text-anchor="end" class="ss" fill="#2b2b2b">-1</text>
<text x="45.9" y="339.5" font-size="13.5" text-anchor="end" class="ss" fill="#2b2b2b">-2</text>
<text x="45.9" y="398.2" font-size="13.5" text-anchor="end" class="ss" fill="#2b2b2b">-3</text>
<rect x="438" y="41" width="371.6" height="352.5" fill="none" stroke="#2a2a33" stroke-width="1.6"/>
<path d="M437 393.8H810.6" stroke="#000" stroke-width="2.2"/>
<path d="M802.6 41.1H809.6M806.1 70.4H809.6M802.6 99.8H809.6M806.1 129.2H809.6M802.6 158.6H809.6M806.1 187.9H809.6M802.6 217.3H809.6M806.1 246.7H809.6M802.6 276.1H809.6M806.1 305.4H809.6M802.6 334.8H809.6M806.1 364.2H809.6M802.6 393.6H809.6" stroke="#222" stroke-width="1.8"/>
<text x="817.1" y="45.8" font-size="13.5" class="ss" fill="#2b2b2b">3</text>
<text x="817.1" y="104.5" font-size="13.5" class="ss" fill="#2b2b2b">2</text>
<text x="817.1" y="163.2" font-size="13.5" class="ss" fill="#2b2b2b">1</text>
<text x="817.1" y="222" font-size="13.5" class="ss" fill="#2b2b2b">0</text>
<text x="817.1" y="280.8" font-size="13.5" class="ss" fill="#2b2b2b">-1</text>
<text x="817.1" y="339.5" font-size="13.5" class="ss" fill="#2b2b2b">-2</text>
<text x="817.1" y="398.2" font-size="13.5" class="ss" fill="#2b2b2b">-3</text>
<rect x="56" y="468" width="372" height="351.5" fill="none" stroke="#2a2a33" stroke-width="1.6"/>
<path d="M55 819.8H429" stroke="#000" stroke-width="2.2"/>
<path d="M49 468.2H56M52 498H56M49 527.8H56M52 557.6H56M49 587.4H56M52 617.2H56M49 647H56M52 676.8H56M49 706.6H56M52 736.4H56M49 766.2H56M52 796H56" stroke="#222" stroke-width="1.8"/>
<text x="43.5" y="472.9" font-size="13.5" text-anchor="end" class="ss" fill="#2b2b2b">3</text>
<text x="43.5" y="532.5" font-size="13.5" text-anchor="end" class="ss" fill="#2b2b2b">2</text>
<text x="43.5" y="592.1" font-size="13.5" text-anchor="end" class="ss" fill="#2b2b2b">1</text>
<text x="43.5" y="651.7" font-size="13.5" text-anchor="end" class="ss" fill="#2b2b2b">0</text>
<text x="43.5" y="711.3" font-size="13.5" text-anchor="end" class="ss" fill="#2b2b2b">-1</text>
<text x="43.5" y="770.9" font-size="13.5" text-anchor="end" class="ss" fill="#2b2b2b">-2</text>
<text x="43.5" y="830.5" font-size="13.5" text-anchor="end" class="ss" fill="#2b2b2b">-3</text>
<rect x="439.6" y="468" width="371.7" height="351.5" fill="none" stroke="#2a2a33" stroke-width="1.6"/>
<path d="M438.6 819.8H812.3" stroke="#000" stroke-width="2.2"/>
<path d="M804.3 468.2H811.3M807.8 498H811.3M804.3 527.8H811.3M807.8 557.6H811.3M804.3 587.4H811.3M807.8 617.2H811.3M804.3 647H811.3M807.8 676.8H811.3M804.3 706.6H811.3M807.8 736.4H811.3M804.3 766.2H811.3M807.8 796H811.3" stroke="#222" stroke-width="1.8"/>
<text x="818.8" y="472.9" font-size="13.5" class="ss" fill="#2b2b2b">3</text>
<text x="818.8" y="532.5" font-size="13.5" class="ss" fill="#2b2b2b">2</text>
<text x="818.8" y="592.1" font-size="13.5" class="ss" fill="#2b2b2b">1</text>
<text x="818.8" y="651.7" font-size="13.5" class="ss" fill="#2b2b2b">0</text>
<text x="818.8" y="711.3" font-size="13.5" class="ss" fill="#2b2b2b">-1</text>
<text x="818.8" y="770.9" font-size="13.5" class="ss" fill="#2b2b2b">-2</text>
<text x="818.8" y="830.5" font-size="13.5" class="ss" fill="#2b2b2b">-3</text>
<rect x="55.2" y="881" width="375.6" height="357" fill="none" stroke="#2a2a33" stroke-width="1.6"/>
<path d="M54.2 1238.3H431.8" stroke="#000" stroke-width="2.2"/>
<path d="M48.2 882.6H55.2M51.2 912.4H55.2M48.2 942.2H55.2M51.2 972H55.2M48.2 1001.8H55.2M51.2 1031.5H55.2M48.2 1061.3H55.2M51.2 1091.1H55.2M48.2 1120.8H55.2M51.2 1150.6H55.2M48.2 1180.4H55.2M51.2 1210.2H55.2" stroke="#222" stroke-width="1.8"/>
<text x="42.7" y="887.4" font-size="13.5" text-anchor="end" class="ss" fill="#2b2b2b">3</text>
<text x="42.7" y="946.9" font-size="13.5" text-anchor="end" class="ss" fill="#2b2b2b">2</text>
<text x="42.7" y="1006.5" font-size="13.5" text-anchor="end" class="ss" fill="#2b2b2b">1</text>
<text x="42.7" y="1066" font-size="13.5" text-anchor="end" class="ss" fill="#2b2b2b">0</text>
<text x="42.7" y="1125.5" font-size="13.5" text-anchor="end" class="ss" fill="#2b2b2b">-1</text>
<text x="42.7" y="1185.1" font-size="13.5" text-anchor="end" class="ss" fill="#2b2b2b">-2</text>
<text x="42.7" y="1244.6" font-size="13.5" text-anchor="end" class="ss" fill="#2b2b2b">-3</text>
<rect x="440.8" y="881" width="373.1" height="357" fill="none" stroke="#2a2a33" stroke-width="1.6"/>
<path d="M439.8 1238.3H814.9" stroke="#000" stroke-width="2.2"/>
<path d="M806.9 882.6H813.9M810.4 912.4H813.9M806.9 942.2H813.9M810.4 972H813.9M806.9 1001.8H813.9M810.4 1031.5H813.9M806.9 1061.3H813.9M810.4 1091.1H813.9M806.9 1120.8H813.9M810.4 1150.6H813.9M806.9 1180.4H813.9M810.4 1210.2H813.9" stroke="#222" stroke-width="1.8"/>
<text x="821.4" y="887.4" font-size="13.5" class="ss" fill="#2b2b2b">3</text>
<text x="821.4" y="946.9" font-size="13.5" class="ss" fill="#2b2b2b">2</text>
<text x="821.4" y="1006.5" font-size="13.5" class="ss" fill="#2b2b2b">1</text>
<text x="821.4" y="1066" font-size="13.5" class="ss" fill="#2b2b2b">0</text>
<text x="821.4" y="1125.5" font-size="13.5" class="ss" fill="#2b2b2b">-1</text>
<text x="821.4" y="1185.1" font-size="13.5" class="ss" fill="#2b2b2b">-2</text>
<text x="821.4" y="1244.6" font-size="13.5" class="ss" fill="#2b2b2b">-3</text>
<text transform="translate(17.5,199.2) rotate(-90)" font-size="26" font-weight="bold" text-anchor="middle" textLength="103" lengthAdjust="spacingAndGlyphs"><tspan font-style="italic">E-E</tspan><tspan font-style="italic" font-size="18" dy="4">F</tspan><tspan dy="-4" dx="3">(eV)</tspan></text>
<text transform="translate(17.5,625.8) rotate(-90)" font-size="26" font-weight="bold" text-anchor="middle" textLength="103" lengthAdjust="spacingAndGlyphs"><tspan font-style="italic">E-E</tspan><tspan font-style="italic" font-size="18" dy="4">F</tspan><tspan dy="-4" dx="3">(eV)</tspan></text>
<text transform="translate(17.5,1041.5) rotate(-90)" font-size="26" font-weight="bold" text-anchor="middle" textLength="103" lengthAdjust="spacingAndGlyphs"><tspan font-style="italic">E-E</tspan><tspan font-style="italic" font-size="18" dy="4">F</tspan><tspan dy="-4" dx="3">(eV)</tspan></text>
<text x="3" y="21.7" font-size="27">(a)</text><text x="59" y="21.7" font-size="29" font-weight="bold" font-style="italic">V</text><text x="75.5" y="28.7" font-size="23" font-weight="bold">G</text><text x="93.4" y="21.7" font-size="30" font-weight="bold" textLength="73.5" lengthAdjust="spacingAndGlyphs">=−5V</text><text x="447.5" y="21.7" font-size="29" font-weight="bold" font-style="italic">V</text><text x="464" y="28.7" font-size="23" font-weight="bold">G</text><text x="481.9" y="21.7" font-size="30" font-weight="bold" textLength="54" lengthAdjust="spacingAndGlyphs">=0V</text>
<text x="3" y="448.7" font-size="27">(b)</text><text x="59" y="448.7" font-size="29" font-weight="bold" font-style="italic">V</text><text x="75.5" y="455.7" font-size="23" font-weight="bold">G</text><text x="93.4" y="448.7" font-size="30" font-weight="bold" textLength="73.5" lengthAdjust="spacingAndGlyphs">=−5V</text><text x="447.5" y="448.7" font-size="29" font-weight="bold" font-style="italic">V</text><text x="464" y="455.7" font-size="23" font-weight="bold">G</text><text x="481.9" y="448.7" font-size="30" font-weight="bold" textLength="54" lengthAdjust="spacingAndGlyphs">=0V</text>
<text x="3" y="862.7" font-size="27">(c)</text><text x="61" y="862.7" font-size="29" font-weight="bold" font-style="italic">V</text><text x="77.5" y="869.7" font-size="23" font-weight="bold">G</text><text x="95.4" y="862.7" font-size="30" font-weight="bold" textLength="56" lengthAdjust="spacingAndGlyphs">=5V</text><text x="447.5" y="862.7" font-size="29" font-weight="bold" font-style="italic">V</text><text x="464" y="869.7" font-size="23" font-weight="bold">G</text><text x="481.9" y="862.7" font-size="30" font-weight="bold" textLength="54" lengthAdjust="spacingAndGlyphs">=0V</text>
<text x="91.5" y="94.6" font-size="46" font-style="italic">I</text><text x="109" y="105.1" font-size="33" textLength="40.5" lengthAdjust="spacingAndGlyphs">ON</text><text x="150" y="94.6" font-size="46" textLength="252.6" lengthAdjust="spacingAndGlyphs">=170.5<tspan font-style="italic">μ</tspan>A/<tspan font-style="italic">μ</tspan>m</text>
<text x="465.5" y="94.4" font-size="46" font-style="italic">I</text><text x="483" y="104.9" font-size="33" textLength="39.5" lengthAdjust="spacingAndGlyphs">ON</text><text x="523" y="94.4" font-size="46" textLength="175" lengthAdjust="spacingAndGlyphs">=0<tspan font-style="italic">μ</tspan>A/<tspan font-style="italic">μ</tspan>m</text>
<text x="91.5" y="519.5" font-size="46" font-style="italic">I</text><text x="109" y="530" font-size="33" textLength="40.5" lengthAdjust="spacingAndGlyphs">ON</text><text x="150" y="519.5" font-size="46" textLength="252.6" lengthAdjust="spacingAndGlyphs">=519.1<tspan font-style="italic">μ</tspan>A/<tspan font-style="italic">μ</tspan>m</text>
<text x="465.5" y="519.5" font-size="46" font-style="italic">I</text><text x="483" y="530" font-size="33" textLength="39.5" lengthAdjust="spacingAndGlyphs">ON</text><text x="523" y="519.5" font-size="46" textLength="175" lengthAdjust="spacingAndGlyphs">=0<tspan font-style="italic">μ</tspan>A/<tspan font-style="italic">μ</tspan>m</text>
<text x="91.5" y="941" font-size="46" font-style="italic">I</text><text x="109" y="951.5" font-size="33" textLength="40.5" lengthAdjust="spacingAndGlyphs">ON</text><text x="150" y="941" font-size="46" textLength="252.6" lengthAdjust="spacingAndGlyphs">=397.7<tspan font-style="italic">μ</tspan>A/<tspan font-style="italic">μ</tspan>m</text>
<text x="465.5" y="941" font-size="46" font-style="italic">I</text><text x="483" y="951.5" font-size="33" textLength="39.5" lengthAdjust="spacingAndGlyphs">ON</text><text x="523" y="941" font-size="46" textLength="175" lengthAdjust="spacingAndGlyphs">=0<tspan font-style="italic">μ</tspan>A/<tspan font-style="italic">μ</tspan>m</text>
<path d="M51 217.3H813" stroke="#000" stroke-width="1.6" stroke-dasharray="6.5 3.5"/>
<path d="M51 646.7H813" stroke="#000" stroke-width="1.6" stroke-dasharray="6.5 3.5"/>
<path d="M51 1061.2H813" stroke="#000" stroke-width="1.6" stroke-dasharray="6.5 3.5"/>
<text x="77" y="207.4" font-size="27" font-weight="bold" font-style="italic">E</text><text x="96" y="213.4" font-size="19" font-weight="bold" font-style="italic">F</text>
<text x="68" y="637.7" font-size="27" font-weight="bold" font-style="italic">E</text><text x="87" y="643.7" font-size="19" font-weight="bold" font-style="italic">F</text>
<text x="68.3" y="1052.4" font-size="27" font-weight="bold" font-style="italic">E</text><text x="87.3" y="1058.4" font-size="19" font-weight="bold" font-style="italic">F</text>
<text x="294.8" y="202.6" font-size="26" font-weight="bold" textLength="107.6" lengthAdjust="spacingAndGlyphs"><tspan font-style="italic">ξ</tspan>=0.28eV</text>
<text x="301.6" y="632" font-size="26" font-weight="bold" textLength="108" lengthAdjust="spacingAndGlyphs"><tspan font-style="italic">ξ</tspan>=0.33eV</text>
<text x="301" y="1042.8" font-size="26" font-weight="bold" textLength="108.7" lengthAdjust="spacingAndGlyphs"><tspan font-style="italic">ξ</tspan>=0.52eV</text>
<text x="448.3" y="158.6" font-size="27" font-weight="bold">Φ</text><text x="470.8" y="164.6" font-size="18.5" font-weight="bold" textLength="24" lengthAdjust="spacingAndGlyphs">BP</text><text x="495.8" y="158.6" font-size="26.5" font-weight="bold" textLength="97.5" lengthAdjust="spacingAndGlyphs">=0.14eV</text>
<text x="448.4" y="611.1" font-size="27" font-weight="bold">Φ</text><text x="470.9" y="617.1" font-size="18.5" font-weight="bold" textLength="24" lengthAdjust="spacingAndGlyphs">BP</text><text x="495.9" y="611.1" font-size="26.5" font-weight="bold" textLength="97.5" lengthAdjust="spacingAndGlyphs">=0.25eV</text>
<text x="449.4" y="1013.4" font-size="27" font-weight="bold">Φ</text><text x="471.9" y="1019.4" font-size="18.5" font-weight="bold" textLength="24" lengthAdjust="spacingAndGlyphs">BN</text><text x="496.9" y="1013.4" font-size="26.5" font-weight="bold" textLength="97.5" lengthAdjust="spacingAndGlyphs">=0.34eV</text>
<text x="92.6" y="307.2" font-size="27" font-weight="bold" textLength="24.5" lengthAdjust="spacingAndGlyphs">Pt</text>
<text x="746.2" y="300.6" font-size="27" font-weight="bold" textLength="24.5" lengthAdjust="spacingAndGlyphs">Pt</text>
<text x="104.2" y="732.6" font-size="27" font-weight="bold" textLength="24.5" lengthAdjust="spacingAndGlyphs">Pt</text>
<text x="738.7" y="725" font-size="27" font-weight="bold" textLength="24.5" lengthAdjust="spacingAndGlyphs">Pt</text>
<text x="98" y="1159.2" font-size="27" font-weight="bold" textLength="24.5" lengthAdjust="spacingAndGlyphs">Pt</text>
<text x="747" y="1153.5" font-size="27" font-weight="bold" textLength="24.5" lengthAdjust="spacingAndGlyphs">Pt</text>
<text x="271.5" y="315.9" font-size="25" font-weight="bold" textLength="68" lengthAdjust="spacingAndGlyphs">MoSe</text><text x="339.5" y="320.9" font-size="17" font-weight="bold">2</text>
<text x="520.4" y="318.1" font-size="25" font-weight="bold" textLength="68" lengthAdjust="spacingAndGlyphs">MoSe</text><text x="588.4" y="323.1" font-size="17" font-weight="bold">2</text>
<text x="337.6" y="745" font-size="25" font-weight="bold" textLength="59.5" lengthAdjust="spacingAndGlyphs">MoSe</text><text x="397.1" y="750" font-size="17" font-weight="bold">2</text>
<text x="450.3" y="745" font-size="25" font-weight="bold" textLength="59.5" lengthAdjust="spacingAndGlyphs">MoSe</text><text x="509.8" y="750" font-size="17" font-weight="bold">2</text>
<text x="344.9" y="1164" font-size="25" font-weight="bold" textLength="59.5" lengthAdjust="spacingAndGlyphs">MoSe</text><text x="404.4" y="1169" font-size="17" font-weight="bold">2</text>
<text x="457.1" y="1164" font-size="25" font-weight="bold" textLength="61" lengthAdjust="spacingAndGlyphs">MoSe</text><text x="518.1" y="1169" font-size="17" font-weight="bold">2</text>
<text x="193.4" y="745" font-size="25" font-weight="bold" textLength="89.2" lengthAdjust="spacingAndGlyphs">MoSeAs</text>
<text x="586.9" y="745" font-size="25" font-weight="bold" textLength="89.2" lengthAdjust="spacingAndGlyphs">MoSeAs</text>
<text x="199.9" y="1166" font-size="25" font-weight="bold" textLength="91.6" lengthAdjust="spacingAndGlyphs">MoSeBr</text>
<text x="575.4" y="1164" font-size="25" font-weight="bold" textLength="91" lengthAdjust="spacingAndGlyphs">MoSeBr</text>
<path d="M416.7 221L416.7 205.3" stroke="#000" stroke-width="2.2"/><path d="M416.7 200.5L411.7 208.5L421.7 208.5Z" fill="#000"/>
<path d="M447.5 191.7L447.5 206.2" stroke="#000" stroke-width="2.2"/><path d="M447.5 211L442.5 203L452.5 203Z" fill="#000"/>
<path d="M447.5 254.3L447.5 234.3" stroke="#000" stroke-width="2.2"/><path d="M447.5 229.5L442.5 237.5L452.5 237.5Z" fill="#000"/>
<path d="M438.8 223.2H468" stroke="#000" stroke-width="1.4" stroke-dasharray="6 3.5"/>
<path d="M416.6 671.8L416.6 634.3" stroke="#000" stroke-width="2.2"/><path d="M416.6 629.5L411.6 637.5L421.6 637.5Z" fill="#000"/>
<path d="M448.4 626.3L448.4 639.7" stroke="#000" stroke-width="2.2"/><path d="M448.4 644.5L443.4 636.5L453.4 636.5Z" fill="#000"/>
<path d="M448.4 698.4L448.4 680" stroke="#000" stroke-width="2.2"/><path d="M448.4 675.2L443.4 683.2L453.4 683.2Z" fill="#000"/>
<path d="M440.8 668.8H470" stroke="#000" stroke-width="1.4" stroke-dasharray="6 3.5"/>
<path d="M417.4 1045.9L417.4 1082.7" stroke="#000" stroke-width="2.2"/><path d="M417.4 1087.5L412.4 1079.5L422.4 1079.5Z" fill="#000"/>
<path d="M451.4 1026.8L451.4 1042.2" stroke="#000" stroke-width="2.2"/><path d="M451.4 1047L446.4 1039L456.4 1039Z" fill="#000"/>
<path d="M451.4 1091.7L451.4 1072" stroke="#000" stroke-width="2.2"/><path d="M451.4 1067.2L446.4 1075.2L456.4 1075.2Z" fill="#000"/>
<path d="M441.8 1048.5H471" stroke="#000" stroke-width="1.4" stroke-dasharray="6 3.5"/>
<path d="M171.8 656.7V819.5" stroke="#000" stroke-width="2.2" stroke-dasharray="7.5 4.5"/>
<path d="M171.8 819.5V826.5" stroke="#000" stroke-width="1.6"/>
<path d="M285.3 656.7V819.5" stroke="#000" stroke-width="2.2" stroke-dasharray="7.5 4.5"/>
<path d="M285.3 819.5V826.5" stroke="#000" stroke-width="1.6"/>
<path d="M576.7 656.7V819.5" stroke="#000" stroke-width="2.2" stroke-dasharray="7.5 4.5"/>
<path d="M576.7 819.5V826.5" stroke="#000" stroke-width="1.6"/>
<path d="M690.5 656.7V819.5" stroke="#000" stroke-width="2.2" stroke-dasharray="7.5 4.5"/>
<path d="M690.5 819.5V826.5" stroke="#000" stroke-width="1.6"/>
<path d="M177.8 1068.8V1238" stroke="#000" stroke-width="2.2" stroke-dasharray="7.5 4.5"/>
<path d="M177.8 1238V1245" stroke="#000" stroke-width="1.6"/>
<path d="M302.1 1068.8V1238" stroke="#000" stroke-width="2.2" stroke-dasharray="7.5 4.5"/>
<path d="M302.1 1238V1245" stroke="#000" stroke-width="1.6"/>
<path d="M567.7 1074.5V1238" stroke="#000" stroke-width="2.2" stroke-dasharray="7.5 4.5"/>
<path d="M567.7 1238V1245" stroke="#000" stroke-width="1.6"/>
<path d="M698.6 1074.5V1238" stroke="#000" stroke-width="2.2" stroke-dasharray="7.5 4.5"/>
<path d="M698.6 1238V1245" stroke="#000" stroke-width="1.6"/>
<path d="M427.6 819.5V827" stroke="#000" stroke-width="1.6"/>
<path d="M174.8 714.3L278.5 714.3" stroke="#1f3f73" stroke-width="1.8"/><path d="M171.8 714.3L180.8 710.3L180.8 718.3Z" fill="#1f3f73"/><path d="M281.5 714.3L272.5 710.3L272.5 718.3Z" fill="#1f3f73"/>
<path d="M579.7 710.5L689 710.5" stroke="#1f3f73" stroke-width="1.8"/><path d="M576.7 710.5L585.7 706.5L585.7 714.5Z" fill="#1f3f73"/><path d="M692 710.5L683 706.5L683 714.5Z" fill="#1f3f73"/>
<path d="M178 1132.9L300 1132.9" stroke="#1f3f73" stroke-width="1.8"/><path d="M175 1132.9L184 1128.9L184 1136.9Z" fill="#1f3f73"/><path d="M303 1132.9L294 1128.9L294 1136.9Z" fill="#1f3f73"/>
<path d="M570.7 1128.7L696 1128.7" stroke="#1f3f73" stroke-width="1.8"/><path d="M567.7 1128.7L576.7 1124.7L576.7 1132.7Z" fill="#1f3f73"/><path d="M699 1128.7L690 1124.7L690 1132.7Z" fill="#1f3f73"/>
<linearGradient id="cb" x1="0" y1="0" x2="0" y2="1"><stop offset="0" stop-color="#f00"/><stop offset="0.02" stop-color="#f00"/><stop offset="0.26" stop-color="#ff0"/><stop offset="0.5" stop-color="#0f0"/><stop offset="0.74" stop-color="#0ff"/><stop offset="0.98" stop-color="#00f"/><stop offset="1" stop-color="#00f"/></linearGradient>
<rect x="874" y="464" width="32.4" height="391.5" fill="url(#cb)" stroke="#555" stroke-width="1"/>
<path d="M906.4 471.8H912" stroke="#444" stroke-width="1.2"/>
<text x="918.5" y="476" font-size="12" class="ss" fill="#3a3a3a">0.3100</text>
<path d="M906.4 518.8H912" stroke="#444" stroke-width="1.2"/>
<text x="918.5" y="523" font-size="12" class="ss" fill="#3a3a3a">0.09125</text>
<path d="M906.4 565.9H912" stroke="#444" stroke-width="1.2"/>
<text x="918.5" y="570.1" font-size="12" class="ss" fill="#3a3a3a">-0.1275</text>
<path d="M906.4 612.9H912" stroke="#444" stroke-width="1.2"/>
<text x="918.5" y="617.1" font-size="12" class="ss" fill="#3a3a3a">-0.3463</text>
<path d="M906.4 659.9H912" stroke="#444" stroke-width="1.2"/>
<text x="918.5" y="664.1" font-size="12" class="ss" fill="#3a3a3a">-0.5650</text>
<path d="M906.4 707H912" stroke="#444" stroke-width="1.2"/>
<text x="918.5" y="711.2" font-size="12" class="ss" fill="#3a3a3a">-0.7838</text>
<path d="M906.4 754H912" stroke="#444" stroke-width="1.2"/>
<text x="918.5" y="758.2" font-size="12" class="ss" fill="#3a3a3a">-1.003</text>
<path d="M906.4 801H912" stroke="#444" stroke-width="1.2"/>
<text x="918.5" y="805.2" font-size="12" class="ss" fill="#3a3a3a">-1.221</text>
<path d="M906.4 848H912" stroke="#444" stroke-width="1.2"/>
<text x="918.5" y="852.2" font-size="12" class="ss" fill="#3a3a3a">-1.440</text>
<text transform="translate(977.7,461.9) rotate(90)" font-size="25" font-weight="bold" textLength="406.7" lengthAdjust="spacingAndGlyphs">Density of states (states/eV) log<tspan font-size="16" dy="4">10</tspan><tspan dy="-4"> scale</tspan></text>
</svg>
</body></html>
